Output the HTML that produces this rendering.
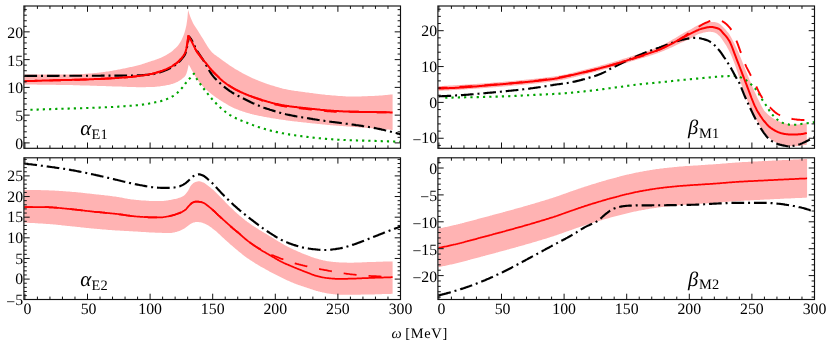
<!DOCTYPE html>
<html><head><meta charset="utf-8"><title>Dynamical polarisabilities</title>
<style>
html,body{margin:0;padding:0;background:#fff;}
body{width:830px;height:341px;overflow:hidden;font-family:"Liberation Serif",serif;}
svg{display:block;will-change:transform;}
text{font-family:"Liberation Serif",serif;fill:#000;text-rendering:geometricPrecision;}
.tk{font-size:15.8px;}
.gk{font-size:21px;font-style:italic;}
.bt{font-size:20.5px;}
.sb{font-size:14.4px;letter-spacing:0.2px;}
.ax{font-size:14.4px;letter-spacing:0.7px;}
</style></head><body>
<svg width="830" height="341" viewBox="0 0 830 341">
<rect x="0" y="0" width="830" height="341" fill="#ffffff"/>
<g id="tl">
<path d="M24.4,74.6L25.4,74.6L26.4,74.6L27.4,74.6L28.4,74.6L29.4,74.6L30.4,74.6L31.4,74.6L32.4,74.6L33.4,74.6L34.4,74.6L35.4,74.6L36.4,74.6L37.4,74.6L38.4,74.6L39.4,74.6L40.4,74.6L41.4,74.6L42.4,74.6L43.4,74.6L44.4,74.6L45.4,74.6L46.4,74.6L47.4,74.6L48.4,74.6L49.4,74.6L50.4,74.6L51.4,74.6L52.4,74.6L53.4,74.6L54.4,74.6L55.4,74.6L56.4,74.6L57.4,74.6L58.4,74.6L59.4,74.6L60.4,74.5L61.4,74.5L62.4,74.5L63.4,74.5L64.4,74.5L65.4,74.5L66.4,74.5L67.4,74.4L68.4,74.4L69.4,74.4L70.4,74.4L71.4,74.4L72.4,74.4L73.4,74.3L74.4,74.3L75.4,74.3L76.4,74.3L77.4,74.2L78.4,74.2L79.4,74.2L80.4,74.1L81.4,74.1L82.4,74.0L83.4,73.9L84.4,73.9L85.4,73.8L86.4,73.8L87.4,73.7L88.4,73.6L89.4,73.5L90.4,73.5L91.4,73.4L92.4,73.3L93.4,73.2L94.4,73.1L95.4,73.0L96.4,72.9L97.4,72.8L98.4,72.7L99.4,72.6L100.4,72.4L101.4,72.3L102.4,72.2L103.4,72.0L104.4,71.9L105.4,71.8L106.4,71.6L107.4,71.5L108.4,71.4L109.4,71.2L110.4,71.0L111.4,70.9L112.4,70.7L113.4,70.5L114.4,70.3L115.4,70.2L116.4,70.0L117.4,69.8L118.4,69.6L119.4,69.4L120.4,69.2L121.4,69.0L122.4,68.8L123.4,68.6L124.4,68.4L125.4,68.2L126.4,68.0L127.4,67.8L128.4,67.6L129.4,67.3L130.4,67.1L131.4,66.9L132.4,66.7L133.4,66.4L134.4,66.2L135.4,66.0L136.4,65.7L137.4,65.5L138.4,65.2L139.4,65.0L140.4,64.7L141.4,64.4L142.4,64.1L143.4,63.8L144.4,63.5L145.4,63.1L146.4,62.8L147.4,62.5L148.4,62.1L149.4,61.8L150.4,61.5L151.4,61.1L152.4,60.8L153.4,60.5L154.4,60.2L155.4,59.8L156.4,59.5L157.4,59.1L158.4,58.7L159.4,58.3L160.4,57.9L161.4,57.5L162.4,57.0L163.4,56.5L164.4,56.0L165.4,55.4L166.4,54.9L167.4,54.3L168.4,53.7L169.4,53.1L170.4,52.4L171.4,51.7L172.4,50.9L173.4,50.0L174.4,49.1L175.4,48.2L176.4,47.3L177.4,46.2L178.4,45.0L179.4,43.6L180.4,42.0L181.4,40.2L182.4,38.0L183.4,35.7L184.4,33.0L185.4,29.6L186.4,25.3L187.4,18.2L188.1,10.1L189.1,13.3L190.1,16.2L191.1,18.8L192.1,21.1L193.1,23.2L194.1,25.0L195.1,26.6L196.1,28.1L197.1,29.6L198.1,31.1L199.1,32.7L200.1,34.3L201.1,35.9L202.1,37.5L203.1,39.1L204.1,40.8L205.1,42.5L206.1,44.1L207.1,45.7L208.1,47.2L209.1,48.7L210.1,50.0L211.1,51.3L212.1,52.4L213.1,53.3L214.1,54.2L215.1,54.9L216.1,55.6L217.1,56.4L218.1,57.1L219.1,57.8L220.1,58.6L221.1,59.3L222.1,60.0L223.1,60.7L224.1,61.4L225.1,62.1L226.1,62.9L227.1,63.6L228.1,64.3L229.1,65.0L230.1,65.7L231.1,66.3L232.1,67.0L233.1,67.6L234.1,68.2L235.1,68.9L236.1,69.5L237.1,70.0L238.1,70.6L239.1,71.2L240.1,71.8L241.1,72.3L242.1,72.9L243.1,73.4L244.1,73.9L245.1,74.5L246.1,75.0L247.1,75.5L248.1,76.0L249.1,76.5L250.1,77.0L251.1,77.4L252.1,77.9L253.1,78.4L254.1,78.8L255.1,79.2L256.1,79.7L257.1,80.1L258.1,80.5L259.1,80.9L260.1,81.3L261.1,81.7L262.1,82.1L263.1,82.5L264.1,82.8L265.1,83.2L266.1,83.5L267.1,83.9L268.1,84.2L269.1,84.6L270.1,84.9L271.1,85.2L272.1,85.5L273.1,85.8L274.1,86.1L275.1,86.4L276.1,86.7L277.1,87.0L278.1,87.3L279.1,87.6L280.1,87.9L281.1,88.1L282.1,88.4L283.1,88.7L284.1,88.9L285.1,89.1L286.1,89.3L287.1,89.5L288.1,89.7L289.1,89.9L290.1,90.1L291.1,90.2L292.1,90.4L293.1,90.5L294.1,90.7L295.1,90.9L296.1,91.0L297.1,91.1L298.1,91.3L299.1,91.4L300.1,91.6L301.1,91.7L302.1,91.8L303.1,92.0L304.1,92.1L305.1,92.2L306.1,92.4L307.1,92.5L308.1,92.6L309.1,92.7L310.1,92.9L311.1,93.0L312.1,93.1L313.1,93.3L314.1,93.4L315.1,93.5L316.1,93.7L317.1,93.8L318.1,93.9L319.1,94.1L320.1,94.2L321.1,94.3L322.1,94.4L323.1,94.5L324.1,94.6L325.1,94.7L326.1,94.9L327.1,94.9L328.1,95.0L329.1,95.1L330.1,95.2L331.1,95.3L332.1,95.4L333.1,95.5L334.1,95.5L335.1,95.6L336.1,95.7L337.1,95.8L338.1,95.9L339.1,95.9L340.1,96.0L341.1,96.1L342.1,96.1L343.1,96.2L344.1,96.3L345.1,96.3L346.1,96.4L347.1,96.4L348.1,96.4L349.1,96.5L350.1,96.5L351.1,96.5L352.1,96.5L353.1,96.5L354.1,96.5L355.1,96.5L356.1,96.5L357.1,96.5L358.1,96.4L359.1,96.4L360.1,96.4L361.1,96.4L362.1,96.3L363.1,96.3L364.1,96.3L365.1,96.2L366.1,96.2L367.1,96.2L368.1,96.1L369.1,96.1L370.1,96.1L371.1,96.0L372.1,96.0L373.1,95.9L374.1,95.9L375.1,95.8L376.1,95.8L377.1,95.7L378.1,95.7L379.1,95.6L380.1,95.5L381.1,95.5L382.1,95.4L383.1,95.3L384.1,95.2L385.1,95.1L386.1,95.0L387.1,94.9L388.1,94.8L389.1,94.7L390.1,94.6L391.1,94.5L392.1,94.4L392.6,94.3L392.6,130.0L391.7,129.9L390.7,129.8L389.7,129.7L388.7,129.6L387.7,129.6L386.7,129.5L385.7,129.4L384.7,129.3L383.7,129.2L382.7,129.1L381.7,129.0L380.7,128.9L379.7,128.9L378.7,128.8L377.7,128.7L376.7,128.6L375.7,128.5L374.7,128.5L373.7,128.4L372.7,128.3L371.7,128.2L370.7,128.1L369.7,128.1L368.7,128.0L367.7,127.9L366.7,127.9L365.7,127.8L364.7,127.7L363.7,127.6L362.7,127.6L361.7,127.5L360.7,127.4L359.7,127.4L358.7,127.3L357.7,127.2L356.7,127.1L355.7,127.1L354.7,127.0L353.7,126.9L352.7,126.9L351.7,126.8L350.7,126.7L349.7,126.6L348.7,126.6L347.7,126.5L346.7,126.4L345.7,126.3L344.7,126.3L343.7,126.2L342.7,126.1L341.7,126.0L340.7,126.0L339.7,125.9L338.7,125.8L337.7,125.7L336.7,125.7L335.7,125.6L334.7,125.5L333.7,125.4L332.7,125.3L331.7,125.2L330.7,125.2L329.7,125.1L328.7,125.0L327.7,124.9L326.7,124.8L325.7,124.7L324.7,124.6L323.7,124.5L322.7,124.4L321.7,124.3L320.7,124.2L319.7,124.1L318.7,124.0L317.7,123.9L316.7,123.8L315.7,123.7L314.7,123.6L313.7,123.5L312.7,123.4L311.7,123.3L310.7,123.2L309.7,123.1L308.7,123.0L307.7,122.9L306.7,122.8L305.7,122.6L304.7,122.5L303.7,122.4L302.7,122.3L301.7,122.2L300.7,122.1L299.7,122.0L298.7,121.9L297.7,121.8L296.7,121.6L295.7,121.5L294.7,121.4L293.7,121.3L292.7,121.2L291.7,121.0L290.7,120.9L289.7,120.8L288.7,120.7L287.7,120.5L286.7,120.4L285.7,120.3L284.7,120.1L283.7,120.0L282.7,119.8L281.7,119.7L280.7,119.6L279.7,119.4L278.7,119.3L277.7,119.1L276.7,119.0L275.7,118.8L274.7,118.6L273.7,118.5L272.7,118.3L271.7,118.2L270.7,118.0L269.7,117.8L268.7,117.6L267.7,117.5L266.7,117.3L265.7,117.1L264.7,116.9L263.7,116.7L262.7,116.5L261.7,116.3L260.7,116.1L259.7,115.9L258.7,115.7L257.7,115.5L256.7,115.3L255.7,115.1L254.7,114.9L253.7,114.6L252.7,114.4L251.7,114.1L250.7,113.9L249.7,113.6L248.7,113.3L247.7,113.0L246.7,112.7L245.7,112.4L244.7,112.1L243.7,111.8L242.7,111.4L241.7,111.1L240.7,110.7L239.7,110.4L238.7,110.0L237.7,109.6L236.7,109.2L235.7,108.8L234.7,108.4L233.7,107.9L232.7,107.4L231.7,107.0L230.7,106.5L229.7,105.9L228.7,105.4L227.7,104.8L226.7,104.2L225.7,103.6L224.7,103.0L223.7,102.4L222.7,101.8L221.7,101.2L220.7,100.5L219.7,99.9L218.7,99.2L217.7,98.5L216.7,97.9L215.7,97.2L214.7,96.4L213.7,95.7L212.7,95.0L211.7,94.2L210.7,93.4L209.7,92.6L208.7,91.8L207.7,90.9L206.7,90.0L205.7,89.1L204.7,88.2L203.7,87.2L202.7,86.2L201.7,85.1L200.7,83.9L199.7,82.7L198.7,81.4L197.7,80.0L196.7,78.5L195.7,76.9L194.7,75.3L193.7,73.5L192.7,71.8L191.7,69.9L190.7,68.1L189.7,66.2L188.7,64.4L188.4,66.0L187.4,70.4L186.4,73.8L185.4,75.7L184.4,76.9L183.4,77.8L182.4,78.6L181.4,79.4L180.4,80.1L179.4,80.7L178.4,81.3L177.4,81.9L176.4,82.3L175.4,82.8L174.4,83.2L173.4,83.5L172.4,83.9L171.4,84.1L170.4,84.4L169.4,84.7L168.4,84.9L167.4,85.1L166.4,85.3L165.4,85.5L164.4,85.7L163.4,85.8L162.4,86.0L161.4,86.1L160.4,86.3L159.4,86.4L158.4,86.5L157.4,86.6L156.4,86.7L155.4,86.8L154.4,86.9L153.4,86.9L152.4,87.0L151.4,87.0L150.4,87.0L149.4,87.1L148.4,87.1L147.4,87.1L146.4,87.1L145.4,87.2L144.4,87.2L143.4,87.2L142.4,87.2L141.4,87.2L140.4,87.2L139.4,87.2L138.4,87.2L137.4,87.2L136.4,87.2L135.4,87.1L134.4,87.1L133.4,87.1L132.4,87.1L131.4,87.0L130.4,87.0L129.4,87.0L128.4,86.9L127.4,86.9L126.4,86.8L125.4,86.8L124.4,86.8L123.4,86.7L122.4,86.7L121.4,86.6L120.4,86.6L119.4,86.6L118.4,86.5L117.4,86.5L116.4,86.5L115.4,86.5L114.4,86.4L113.4,86.4L112.4,86.4L111.4,86.3L110.4,86.3L109.4,86.3L108.4,86.2L107.4,86.2L106.4,86.2L105.4,86.1L104.4,86.1L103.4,86.1L102.4,86.0L101.4,86.0L100.4,86.0L99.4,85.9L98.4,85.9L97.4,85.9L96.4,85.8L95.4,85.8L94.4,85.8L93.4,85.7L92.4,85.7L91.4,85.7L90.4,85.7L89.4,85.6L88.4,85.6L87.4,85.6L86.4,85.5L85.4,85.5L84.4,85.5L83.4,85.4L82.4,85.4L81.4,85.4L80.4,85.4L79.4,85.3L78.4,85.3L77.4,85.3L76.4,85.2L75.4,85.2L74.4,85.2L73.4,85.2L72.4,85.1L71.4,85.1L70.4,85.1L69.4,85.1L68.4,85.0L67.4,85.0L66.4,85.0L65.4,85.0L64.4,85.0L63.4,85.0L62.4,84.9L61.4,84.9L60.4,84.9L59.4,84.9L58.4,84.9L57.4,84.9L56.4,84.9L55.4,84.8L54.4,84.8L53.4,84.8L52.4,84.8L51.4,84.8L50.4,84.8L49.4,84.8L48.4,84.8L47.4,84.7L46.4,84.7L45.4,84.7L44.4,84.7L43.4,84.7L42.4,84.7L41.4,84.7L40.4,84.7L39.4,84.7L38.4,84.7L37.4,84.7L36.4,84.6L35.4,84.6L34.4,84.6L33.4,84.6L32.4,84.6L31.4,84.6L30.4,84.6L29.4,84.6L28.4,84.6L27.4,84.6L26.4,84.6L25.4,84.6L24.4,84.6Z" fill="#ffb3b3" stroke="none"/>
<path d="M30.4,109.8L31.4,109.8L32.4,109.7L33.4,109.7L34.4,109.7L35.4,109.6L36.4,109.6L37.4,109.6L38.4,109.5L39.4,109.5L40.4,109.5L41.4,109.4L42.4,109.4L43.4,109.4L44.4,109.3L45.4,109.3L46.4,109.3L47.4,109.2L48.4,109.2L49.4,109.2L50.4,109.1L51.4,109.1L52.4,109.1L53.4,109.0L54.4,109.0L55.4,109.0L56.4,108.9L57.4,108.9L58.4,108.9L59.4,108.8L60.4,108.8L61.4,108.8L62.4,108.7L63.4,108.7L64.4,108.7L65.4,108.6L66.4,108.6L67.4,108.6L68.4,108.6L69.4,108.5L70.4,108.5L71.4,108.5L72.4,108.4L73.4,108.4L74.4,108.4L75.4,108.4L76.4,108.3L77.4,108.3L78.4,108.3L79.4,108.2L80.4,108.2L81.4,108.2L82.4,108.2L83.4,108.1L84.4,108.1L85.4,108.1L86.4,108.0L87.4,108.0L88.4,108.0L89.4,107.9L90.4,107.9L91.4,107.9L92.4,107.8L93.4,107.8L94.4,107.8L95.4,107.7L96.4,107.7L97.4,107.6L98.4,107.6L99.4,107.6L100.4,107.5L101.4,107.5L102.4,107.4L103.4,107.4L104.4,107.3L105.4,107.3L106.4,107.3L107.4,107.2L108.4,107.2L109.4,107.1L110.4,107.1L111.4,107.0L112.4,107.0L113.4,106.9L114.4,106.9L115.4,106.8L116.4,106.7L117.4,106.7L118.4,106.6L119.4,106.6L120.4,106.5L121.4,106.4L122.4,106.4L123.4,106.3L124.4,106.2L125.4,106.1L126.4,106.1L127.4,106.0L128.4,105.9L129.4,105.8L130.4,105.8L131.4,105.7L132.4,105.6L133.4,105.5L134.4,105.4L135.4,105.4L136.4,105.3L137.4,105.2L138.4,105.1L139.4,105.0L140.4,104.9L141.4,104.7L142.4,104.6L143.4,104.5L144.4,104.3L145.4,104.2L146.4,104.0L147.4,103.9L148.4,103.7L149.4,103.5L150.4,103.3L151.4,103.1L152.4,102.9L153.4,102.7L154.4,102.5L155.4,102.3L156.4,102.1L157.4,101.9L158.4,101.7L159.4,101.4L160.4,101.2L161.4,100.9L162.4,100.6L163.4,100.3L164.4,100.0L165.4,99.7L166.4,99.3L167.4,98.9L168.4,98.5L169.4,98.1L170.4,97.6L171.4,97.0L172.4,96.4L173.4,95.8L174.4,95.1L175.4,94.4L176.4,93.6L177.4,92.8L178.4,91.9L179.4,90.9L180.4,89.8L181.4,88.7L182.4,87.5L183.4,86.2L184.4,84.9L185.4,83.5L186.4,82.3L187.4,81.1L188.4,79.9L189.4,78.8L190.4,77.7L191.4,76.5L192.4,75.4L193.4,74.3L194.0,73.7L195.0,75.7L196.0,77.6L197.0,79.3L198.0,80.9L199.0,82.4L200.0,83.7L201.0,85.0L202.0,86.3L203.0,87.7L204.0,89.0L205.0,90.3L206.0,91.6L207.0,92.9L208.0,94.2L209.0,95.4L210.0,96.7L211.0,97.8L212.0,99.0L213.0,100.1L214.0,101.2L215.0,102.3L216.0,103.3L217.0,104.4L218.0,105.4L219.0,106.4L220.0,107.3L221.0,108.2L222.0,109.1L223.0,109.9L224.0,110.7L225.0,111.5L226.0,112.3L227.0,113.0L228.0,113.7L229.0,114.4L230.0,115.1L231.0,115.7L232.0,116.3L233.0,116.8L234.0,117.3L235.0,117.8L236.0,118.3L237.0,118.8L238.0,119.2L239.0,119.7L240.0,120.1L241.0,120.5L242.0,120.9L243.0,121.3L244.0,121.7L245.0,122.1L246.0,122.4L247.0,122.8L248.0,123.2L249.0,123.6L250.0,124.0L251.0,124.4L252.0,124.7L253.0,125.1L254.0,125.5L255.0,125.8L256.0,126.2L257.0,126.6L258.0,126.9L259.0,127.2L260.0,127.6L261.0,127.9L262.0,128.2L263.0,128.5L264.0,128.8L265.0,129.1L266.0,129.4L267.0,129.6L268.0,129.9L269.0,130.2L270.0,130.4L271.0,130.7L272.0,130.9L273.0,131.2L274.0,131.4L275.0,131.6L276.0,131.9L277.0,132.1L278.0,132.3L279.0,132.5L280.0,132.7L281.0,133.0L282.0,133.2L283.0,133.3L284.0,133.5L285.0,133.7L286.0,133.9L287.0,134.1L288.0,134.2L289.0,134.4L290.0,134.6L291.0,134.7L292.0,134.9L293.0,135.0L294.0,135.2L295.0,135.3L296.0,135.5L297.0,135.6L298.0,135.7L299.0,135.9L300.0,136.0L301.0,136.1L302.0,136.3L303.0,136.4L304.0,136.5L305.0,136.6L306.0,136.8L307.0,136.9L308.0,137.0L309.0,137.1L310.0,137.2L311.0,137.3L312.0,137.5L313.0,137.6L314.0,137.7L315.0,137.8L316.0,137.9L317.0,138.0L318.0,138.1L319.0,138.2L320.0,138.3L321.0,138.4L322.0,138.5L323.0,138.6L324.0,138.7L325.0,138.8L326.0,138.9L327.0,139.0L328.0,139.1L329.0,139.1L330.0,139.2L331.0,139.3L332.0,139.3L333.0,139.4L334.0,139.5L335.0,139.5L336.0,139.6L337.0,139.6L338.0,139.7L339.0,139.7L340.0,139.8L341.0,139.8L342.0,139.9L343.0,139.9L344.0,140.0L345.0,140.0L346.0,140.1L347.0,140.1L348.0,140.1L349.0,140.2L350.0,140.2L351.0,140.3L352.0,140.3L353.0,140.3L354.0,140.4L355.0,140.4L356.0,140.4L357.0,140.5L358.0,140.5L359.0,140.5L360.0,140.5L361.0,140.6L362.0,140.6L363.0,140.6L364.0,140.6L365.0,140.7L366.0,140.7L367.0,140.7L368.0,140.7L369.0,140.8L370.0,140.8L371.0,140.8L372.0,140.8L373.0,140.9L374.0,140.9L375.0,140.9L376.0,141.0L377.0,141.0L378.0,141.0L379.0,141.1L380.0,141.1L381.0,141.1L382.0,141.2L383.0,141.2L384.0,141.2L385.0,141.3L386.0,141.3L387.0,141.3L388.0,141.4L389.0,141.4L390.0,141.4L391.0,141.5L392.0,141.5L393.0,141.5L394.0,141.5L395.0,141.6L396.0,141.6L397.0,141.6L398.0,141.6L399.0,141.7L400.0,141.7L400.5,141.7" fill="none" stroke="#00a500" stroke-width="2.1" stroke-linecap="butt" stroke-linejoin="round" stroke-dasharray="2.2 4.009"/>
<path d="M24.4,75.8L25.4,75.8L26.4,75.8L27.4,75.8L28.4,75.8L29.4,75.8L30.4,75.8L31.4,75.8L32.4,75.8L33.4,75.8L34.4,75.8L35.4,75.8L36.4,75.8L37.4,75.8L38.4,75.8L39.4,75.8L40.4,75.8L41.4,75.8L42.4,75.8L43.4,75.8L44.4,75.8L45.4,75.8L46.4,75.8L47.4,75.8L48.4,75.8L49.4,75.8L50.4,75.8L51.4,75.8L52.4,75.8L53.4,75.8L54.4,75.8L55.4,75.8L56.4,75.8L57.4,75.8L58.4,75.8L59.4,75.7L60.4,75.7L61.4,75.7L62.4,75.7L63.4,75.7L64.4,75.7L65.4,75.7L66.4,75.7L67.4,75.7L68.4,75.7L69.4,75.7L70.4,75.7L71.4,75.7L72.4,75.7L73.4,75.7L74.4,75.7L75.4,75.7L76.4,75.7L77.4,75.7L78.4,75.7L79.4,75.7L80.4,75.7L81.4,75.7L82.4,75.7L83.4,75.7L84.4,75.7L85.4,75.7L86.4,75.7L87.4,75.7L88.4,75.7L89.4,75.7L90.4,75.7L91.4,75.7L92.4,75.7L93.4,75.7L94.4,75.7L95.4,75.7L96.4,75.7L97.4,75.7L98.4,75.7L99.4,75.7L100.4,75.7L101.4,75.6L102.4,75.6L103.4,75.6L104.4,75.6L105.4,75.6L106.4,75.6L107.4,75.6L108.4,75.6L109.4,75.6L110.4,75.6L111.4,75.6L112.4,75.6L113.4,75.6L114.4,75.6L115.4,75.6L116.4,75.6L117.4,75.6L118.4,75.6L119.4,75.6L120.4,75.6L121.4,75.6L122.4,75.6L123.4,75.5L124.4,75.5L125.4,75.5L126.4,75.5L127.4,75.5L128.4,75.5L129.4,75.5L130.4,75.5L131.4,75.5L132.4,75.5L133.4,75.5L134.4,75.4L135.4,75.4L136.4,75.4L137.4,75.3L138.4,75.3L139.4,75.3L140.4,75.2L141.4,75.2L142.4,75.1L143.4,75.1L144.4,75.0L145.4,74.9L146.4,74.9L147.4,74.8L148.4,74.7L149.4,74.6L150.4,74.6L151.4,74.4L152.4,74.3L153.4,74.1L154.4,73.8L155.4,73.6L156.4,73.3L157.4,73.0L158.4,72.7L159.4,72.4L160.4,72.1L161.4,71.8L162.4,71.4L163.4,71.1L164.4,70.7L165.4,70.3L166.4,69.9L167.4,69.5L168.4,69.0L169.4,68.6L170.4,68.0L171.4,67.5L172.4,66.9L173.4,66.3L174.4,65.6L175.4,64.9L176.4,64.2L177.4,63.4L178.4,62.5L179.4,61.5L180.4,60.5L181.4,59.3L182.4,58.1L183.4,56.9L184.4,55.4L185.4,53.5L186.4,50.2L187.4,45.2L188.4,39.6L188.9,36.4L189.9,37.5L190.9,38.9L191.9,40.5L192.9,42.6L193.9,44.7L194.9,46.7L195.9,48.7L196.9,50.6L197.9,52.2L198.9,53.6L199.9,55.0L200.9,56.5L201.9,58.0L202.9,59.5L203.9,61.2L204.9,62.9L205.9,64.7L206.9,66.4L207.9,68.2L208.9,70.0L209.9,71.6L210.9,73.1L211.9,74.6L212.9,75.9L213.9,77.1L214.9,78.2L215.9,79.2L216.9,80.2L217.9,81.2L218.9,82.2L219.9,83.1L220.9,84.1L221.9,85.0L222.9,85.8L223.9,86.6L224.9,87.4L225.9,88.2L226.9,88.9L227.9,89.7L228.9,90.4L229.9,91.1L230.9,91.7L231.9,92.4L232.9,93.0L233.9,93.6L234.9,94.2L235.9,94.7L236.9,95.2L237.9,95.8L238.9,96.3L239.9,96.8L240.9,97.3L241.9,97.8L242.9,98.3L243.9,98.8L244.9,99.3L245.9,99.8L246.9,100.3L247.9,100.8L248.9,101.3L249.9,101.8L250.9,102.3L251.9,102.7L252.9,103.2L253.9,103.6L254.9,104.0L255.9,104.5L256.9,104.9L257.9,105.3L258.9,105.7L259.9,106.1L260.9,106.5L261.9,106.9L262.9,107.3L263.9,107.7L264.9,108.0L265.9,108.4L266.9,108.7L267.9,109.0L268.9,109.3L269.9,109.7L270.9,110.0L271.9,110.3L272.9,110.6L273.9,110.9L274.9,111.2L275.9,111.5L276.9,111.8L277.9,112.1L278.9,112.4L279.9,112.7L280.9,113.0L281.9,113.3L282.9,113.5L283.9,113.8L284.9,114.0L285.9,114.3L286.9,114.5L287.9,114.7L288.9,114.9L289.9,115.1L290.9,115.3L291.9,115.5L292.9,115.7L293.9,115.9L294.9,116.1L295.9,116.3L296.9,116.5L297.9,116.6L298.9,116.8L299.9,117.0L300.9,117.1L301.9,117.3L302.9,117.5L303.9,117.6L304.9,117.8L305.9,118.0L306.9,118.1L307.9,118.3L308.9,118.4L309.9,118.6L310.9,118.8L311.9,118.9L312.9,119.1L313.9,119.2L314.9,119.4L315.9,119.5L316.9,119.7L317.9,119.9L318.9,120.0L319.9,120.1L320.9,120.3L321.9,120.4L322.9,120.6L323.9,120.7L324.9,120.9L325.9,121.0L326.9,121.2L327.9,121.3L328.9,121.4L329.9,121.6L330.9,121.7L331.9,121.9L332.9,122.0L333.9,122.1L334.9,122.3L335.9,122.4L336.9,122.5L337.9,122.6L338.9,122.8L339.9,122.9L340.9,123.0L341.9,123.2L342.9,123.3L343.9,123.4L344.9,123.5L345.9,123.7L346.9,123.8L347.9,123.9L348.9,124.1L349.9,124.2L350.9,124.3L351.9,124.5L352.9,124.6L353.9,124.8L354.9,124.9L355.9,125.1L356.9,125.2L357.9,125.3L358.9,125.5L359.9,125.6L360.9,125.8L361.9,125.9L362.9,126.1L363.9,126.2L364.9,126.4L365.9,126.5L366.9,126.7L367.9,126.8L368.9,127.0L369.9,127.2L370.9,127.3L371.9,127.5L372.9,127.7L373.9,127.9L374.9,128.1L375.9,128.3L376.9,128.5L377.9,128.7L378.9,128.9L379.9,129.1L380.9,129.3L381.9,129.6L382.9,129.8L383.9,130.0L384.9,130.3L385.9,130.5L386.9,130.7L387.9,131.0L388.9,131.2L389.9,131.5L390.9,131.7L391.9,132.0L392.9,132.2L393.9,132.5L394.9,132.8L395.9,133.0L396.9,133.3L397.9,133.6L398.9,133.8L399.9,134.1L400.5,134.3" fill="none" stroke="#000000" stroke-width="2.15" stroke-linecap="butt" stroke-linejoin="round" stroke-dasharray="12.7 3.9 2.0 3.9"/>
<path d="M24.4,81.2L25.4,81.2L26.4,81.1L27.4,81.1L28.4,81.1L29.4,81.0L30.4,81.0L31.4,81.0L32.4,80.9L33.4,80.9L34.4,80.9L35.4,80.8L36.4,80.8L37.4,80.8L38.4,80.7L39.4,80.7L40.4,80.7L41.4,80.7L42.4,80.6L43.4,80.6L44.4,80.6L45.4,80.5L46.4,80.5L47.4,80.5L48.4,80.5L49.4,80.4L50.4,80.4L51.4,80.4L52.4,80.4L53.4,80.3L54.4,80.3L55.4,80.3L56.4,80.3L57.4,80.2L58.4,80.2L59.4,80.2L60.4,80.2L61.4,80.1L62.4,80.1L63.4,80.1L64.4,80.1L65.4,80.0L66.4,80.0L67.4,80.0L68.4,80.0L69.4,79.9L70.4,79.9L71.4,79.9L72.4,79.8L73.4,79.8L74.4,79.8L75.4,79.8L76.4,79.7L77.4,79.7L78.4,79.7L79.4,79.7L80.4,79.6L81.4,79.6L82.4,79.6L83.4,79.5L84.4,79.5L85.4,79.5L86.4,79.4L87.4,79.4L88.4,79.4L89.4,79.3L90.4,79.3L91.4,79.3L92.4,79.2L93.4,79.2L94.4,79.1L95.4,79.1L96.4,79.1L97.4,79.0L98.4,79.0L99.4,78.9L100.4,78.9L101.4,78.8L102.4,78.8L103.4,78.7L104.4,78.7L105.4,78.6L106.4,78.6L107.4,78.5L108.4,78.5L109.4,78.4L110.4,78.4L111.4,78.3L112.4,78.3L113.4,78.2L114.4,78.2L115.4,78.1L116.4,78.0L117.4,78.0L118.4,77.9L119.4,77.8L120.4,77.8L121.4,77.7L122.4,77.6L123.4,77.6L124.4,77.5L125.4,77.4L126.4,77.3L127.4,77.2L128.4,77.1L129.4,77.1L130.4,77.0L131.4,76.9L132.4,76.8L133.4,76.6L134.4,76.5L135.4,76.4L136.4,76.3L137.4,76.1L138.4,76.0L139.4,75.9L140.4,75.7L141.4,75.6L142.4,75.5L143.4,75.3L144.4,75.2L145.4,75.0L146.4,74.9L147.4,74.7L148.4,74.5L149.4,74.3L150.4,74.1L151.4,73.9L152.4,73.7L153.4,73.4L154.4,73.2L155.4,72.9L156.4,72.6L157.4,72.3L158.4,72.0L159.4,71.7L160.4,71.4L161.4,71.0L162.4,70.7L163.4,70.3L164.4,69.9L165.4,69.5L166.4,69.1L167.4,68.6L168.4,68.1L169.4,67.6L170.4,67.1L171.4,66.6L172.4,66.0L173.4,65.3L174.4,64.6L175.4,63.9L176.4,63.2L177.4,62.4L178.4,61.5L179.4,60.5L180.4,59.4L181.4,58.3L182.4,57.1L183.4,55.9L184.4,54.4L185.4,52.4L186.4,48.5L187.4,43.0L188.3,36.0L189.3,37.4L190.3,39.0L191.3,40.8L192.3,42.8L193.3,44.9L194.3,46.9L195.3,48.9L196.3,50.7L197.3,52.3L198.3,53.6L199.3,54.9L200.3,56.3L201.3,57.6L202.3,58.9L203.3,60.2L204.3,61.3L205.3,62.4L206.3,63.5L207.3,64.8L208.3,66.0L209.3,67.3L210.3,68.6L211.3,69.8L212.3,70.9L213.3,72.0L214.3,73.0L215.3,74.0L216.3,74.9L217.3,75.9L218.3,76.9L219.3,77.9L220.3,78.9L221.3,79.8L222.3,80.7L223.3,81.5L224.3,82.3L225.3,83.0L226.3,83.8L227.3,84.5L228.3,85.1L229.3,85.8L230.3,86.4L231.3,87.0L232.3,87.6L233.3,88.2L234.3,88.8L235.3,89.3L236.3,89.8L237.3,90.3L238.3,90.8L239.3,91.3L240.3,91.8L241.3,92.3L242.3,92.7L243.3,93.2L244.3,93.6L245.3,94.0L246.3,94.5L247.3,94.9L248.3,95.3L249.3,95.7L250.3,96.0L251.3,96.4L252.3,96.8L253.3,97.1L254.3,97.5L255.3,97.8L256.3,98.2L257.3,98.5L258.3,98.8L259.3,99.2L260.3,99.5L261.3,99.8L262.3,100.9L263.3,101.2L264.3,101.5L265.3,101.8L266.3,102.1L267.3,102.4L268.3,102.7L269.3,102.9L270.3,103.2L271.3,103.5L272.3,103.7L273.3,104.0L274.3,104.2L275.3,104.5L276.3,104.7L277.3,104.9L278.3,105.1L279.3,105.4L280.3,105.6L281.3,105.8L282.3,106.0L283.3,106.1L284.3,106.3L285.3,106.5L286.3,106.6L287.3,106.8L288.3,106.9L289.3,107.1L290.3,107.2L291.3,107.3L292.3,107.5L293.3,107.6L294.3,107.7L295.3,107.8L296.3,107.9L297.3,108.1L298.3,108.2L299.3,108.3L300.3,108.4L301.3,108.5L302.3,108.6L303.3,108.7L304.3,108.8L305.3,108.9L306.3,109.0L307.3,109.1L308.3,109.2L309.3,109.3L310.3,109.5L311.3,109.6L312.3,109.7L313.3,109.8L314.3,109.9L315.3,110.0L316.3,110.1L317.3,110.2L318.3,110.3L319.3,110.4L320.3,110.6L321.3,110.7L322.3,110.8L323.3,110.8L324.3,110.9L325.3,111.0L326.3,111.1L327.3,111.2L328.3,111.3L329.3,111.4L330.3,111.4L331.3,111.5L332.3,111.6L333.3,111.6L334.3,111.7L335.3,111.7L336.3,111.8L337.3,111.9L338.3,111.9L339.3,112.0L340.3,112.0L341.3,112.1L342.3,112.1L343.3,112.2L344.3,112.2L345.3,111.5L346.3,111.5L347.3,111.5L348.3,111.6L349.3,111.6L350.3,111.7L351.3,111.7L352.3,111.7L353.3,111.7L354.3,111.8L355.3,111.8L356.3,111.8L357.3,111.8L358.3,111.8L359.3,111.9L360.3,111.9L361.3,111.9L362.3,111.9L363.3,111.9L364.3,111.9L365.3,112.0L366.3,112.0L367.3,112.0L368.3,112.0L369.3,112.0L370.3,112.0L371.3,112.1L372.3,112.1L373.3,112.1L374.3,112.1L375.3,112.1L376.3,112.1L377.3,112.2L378.3,112.2L379.3,112.2L380.3,112.2L381.3,112.2L382.3,112.2L383.3,112.3L384.3,112.3L385.3,112.3L386.3,112.3L387.3,112.3L388.3,112.3L389.3,112.3L390.3,112.4L391.3,112.4L392.3,112.4L392.6,112.4" fill="none" stroke="#ff0000" stroke-width="1.9" stroke-linecap="butt" stroke-linejoin="round" stroke-dasharray="13 12"/>
<path d="M24.4,81.2L25.4,81.2L26.4,81.1L27.4,81.1L28.4,81.1L29.4,81.0L30.4,81.0L31.4,81.0L32.4,80.9L33.4,80.9L34.4,80.9L35.4,80.8L36.4,80.8L37.4,80.8L38.4,80.7L39.4,80.7L40.4,80.7L41.4,80.7L42.4,80.6L43.4,80.6L44.4,80.6L45.4,80.5L46.4,80.5L47.4,80.5L48.4,80.5L49.4,80.4L50.4,80.4L51.4,80.4L52.4,80.4L53.4,80.3L54.4,80.3L55.4,80.3L56.4,80.3L57.4,80.2L58.4,80.2L59.4,80.2L60.4,80.2L61.4,80.1L62.4,80.1L63.4,80.1L64.4,80.1L65.4,80.0L66.4,80.0L67.4,80.0L68.4,80.0L69.4,79.9L70.4,79.9L71.4,79.9L72.4,79.8L73.4,79.8L74.4,79.8L75.4,79.8L76.4,79.7L77.4,79.7L78.4,79.7L79.4,79.7L80.4,79.6L81.4,79.6L82.4,79.6L83.4,79.5L84.4,79.5L85.4,79.5L86.4,79.4L87.4,79.4L88.4,79.4L89.4,79.3L90.4,79.3L91.4,79.3L92.4,79.2L93.4,79.2L94.4,79.1L95.4,79.1L96.4,79.1L97.4,79.0L98.4,79.0L99.4,78.9L100.4,78.9L101.4,78.8L102.4,78.8L103.4,78.7L104.4,78.7L105.4,78.6L106.4,78.6L107.4,78.5L108.4,78.5L109.4,78.4L110.4,78.4L111.4,78.3L112.4,78.3L113.4,78.2L114.4,78.2L115.4,78.1L116.4,78.0L117.4,78.0L118.4,77.9L119.4,77.8L120.4,77.8L121.4,77.7L122.4,77.6L123.4,77.6L124.4,77.5L125.4,77.4L126.4,77.3L127.4,77.2L128.4,77.1L129.4,77.1L130.4,77.0L131.4,76.9L132.4,76.8L133.4,76.6L134.4,76.5L135.4,76.4L136.4,76.3L137.4,76.1L138.4,76.0L139.4,75.9L140.4,75.7L141.4,75.6L142.4,75.5L143.4,75.3L144.4,75.2L145.4,75.0L146.4,74.9L147.4,74.7L148.4,74.5L149.4,74.3L150.4,74.1L151.4,73.9L152.4,73.7L153.4,73.4L154.4,73.2L155.4,72.9L156.4,72.6L157.4,72.3L158.4,72.0L159.4,71.7L160.4,71.4L161.4,71.0L162.4,70.7L163.4,70.3L164.4,69.9L165.4,69.5L166.4,69.1L167.4,68.6L168.4,68.1L169.4,67.6L170.4,67.1L171.4,66.6L172.4,66.0L173.4,65.3L174.4,64.6L175.4,63.9L176.4,63.2L177.4,62.4L178.4,61.5L179.4,60.5L180.4,59.4L181.4,58.3L182.4,57.1L183.4,55.9L184.4,54.4L185.4,52.4L186.4,48.5L187.4,43.0L188.3,36.0L189.3,37.4L190.3,39.0L191.3,40.8L192.3,42.8L193.3,44.9L194.3,46.9L195.3,48.9L196.3,50.7L197.3,52.3L198.3,53.6L199.3,54.9L200.3,56.3L201.3,57.6L202.3,58.9L203.3,60.2L204.3,61.3L205.3,62.4L206.3,63.5L207.3,64.8L208.3,66.0L209.3,67.3L210.3,68.6L211.3,69.8L212.3,70.9L213.3,72.0L214.3,73.0L215.3,74.0L216.3,74.9L217.3,75.9L218.3,76.9L219.3,77.9L220.3,78.9L221.3,79.8L222.3,80.7L223.3,81.5L224.3,82.3L225.3,83.0L226.3,83.8L227.3,84.5L228.3,85.1L229.3,85.8L230.3,86.4L231.3,87.0L232.3,87.6L233.3,88.2L234.3,88.8L235.3,89.3L236.3,89.8L237.3,90.3L238.3,90.8L239.3,91.3L240.3,91.8L241.3,92.3L242.3,92.7L243.3,93.2L244.3,93.6L245.3,94.0L246.3,94.5L247.3,94.9L248.3,95.3L249.3,95.7L250.3,96.0L251.3,96.4L252.3,96.8L253.3,97.1L254.3,97.5L255.3,97.8L256.3,98.2L257.3,98.5L258.3,98.8L259.3,99.2L260.3,99.5L261.3,99.8L262.3,100.1L263.3,100.4L264.3,100.7L265.3,101.0L266.3,101.3L267.3,101.6L268.3,101.9L269.3,102.1L270.3,102.4L271.3,102.7L272.3,102.9L273.3,103.2L274.3,103.4L275.3,103.7L276.3,103.9L277.3,104.1L278.3,104.3L279.3,104.6L280.3,104.8L281.3,105.0L282.3,105.2L283.3,105.3L284.3,105.5L285.3,105.7L286.3,105.8L287.3,106.0L288.3,106.1L289.3,106.3L290.3,106.4L291.3,106.5L292.3,106.7L293.3,106.8L294.3,106.9L295.3,107.0L296.3,107.1L297.3,107.3L298.3,107.4L299.3,107.5L300.3,107.6L301.3,107.7L302.3,107.8L303.3,107.9L304.3,108.0L305.3,108.1L306.3,108.2L307.3,108.3L308.3,108.4L309.3,108.5L310.3,108.7L311.3,108.8L312.3,108.9L313.3,109.0L314.3,109.1L315.3,109.2L316.3,109.3L317.3,109.4L318.3,109.5L319.3,109.6L320.3,109.8L321.3,109.9L322.3,110.0L323.3,110.0L324.3,110.1L325.3,110.2L326.3,110.3L327.3,110.4L328.3,110.5L329.3,110.6L330.3,110.6L331.3,110.7L332.3,110.8L333.3,110.8L334.3,110.9L335.3,110.9L336.3,111.0L337.3,111.1L338.3,111.1L339.3,111.2L340.3,111.2L341.3,111.3L342.3,111.3L343.3,111.4L344.3,111.4L345.3,111.5L346.3,111.5L347.3,111.5L348.3,111.6L349.3,111.6L350.3,111.7L351.3,111.7L352.3,111.7L353.3,111.7L354.3,111.8L355.3,111.8L356.3,111.8L357.3,111.8L358.3,111.8L359.3,111.9L360.3,111.9L361.3,111.9L362.3,111.9L363.3,111.9L364.3,111.9L365.3,112.0L366.3,112.0L367.3,112.0L368.3,112.0L369.3,112.0L370.3,112.0L371.3,112.1L372.3,112.1L373.3,112.1L374.3,112.1L375.3,112.1L376.3,112.1L377.3,112.2L378.3,112.2L379.3,112.2L380.3,112.2L381.3,112.2L382.3,112.2L383.3,112.3L384.3,112.3L385.3,112.3L386.3,112.3L387.3,112.3L388.3,112.3L389.3,112.3L390.3,112.4L391.3,112.4L392.3,112.4L392.6,112.4" fill="none" stroke="#ff0000" stroke-width="2.0" stroke-linecap="butt" stroke-linejoin="round"/>
</g>
<g id="tr">
<path d="M438.5,86.1L439.5,86.1L440.5,86.0L441.5,86.0L442.5,85.9L443.5,85.9L444.5,85.8L445.5,85.8L446.5,85.7L447.5,85.7L448.5,85.6L449.5,85.6L450.5,85.5L451.5,85.4L452.5,85.4L453.5,85.3L454.5,85.3L455.5,85.2L456.5,85.2L457.5,85.1L458.5,85.0L459.5,85.0L460.5,84.9L461.5,84.9L462.5,84.8L463.5,84.7L464.5,84.7L465.5,84.6L466.5,84.5L467.5,84.5L468.5,84.4L469.5,84.4L470.5,84.3L471.5,84.2L472.5,84.2L473.5,84.1L474.5,84.0L475.5,84.0L476.5,83.9L477.5,83.8L478.5,83.7L479.5,83.7L480.5,83.6L481.5,83.5L482.5,83.5L483.5,83.4L484.5,83.3L485.5,83.2L486.5,83.2L487.5,83.1L488.5,83.0L489.5,82.9L490.5,82.9L491.5,82.8L492.5,82.7L493.5,82.6L494.5,82.6L495.5,82.5L496.5,82.4L497.5,82.3L498.5,82.2L499.5,82.1L500.5,82.1L501.5,82.0L502.5,81.9L503.5,81.8L504.5,81.7L505.5,81.6L506.5,81.5L507.5,81.4L508.5,81.3L509.5,81.3L510.5,81.2L511.5,81.1L512.5,81.0L513.5,80.9L514.5,80.8L515.5,80.7L516.5,80.6L517.5,80.5L518.5,80.4L519.5,80.3L520.5,80.2L521.5,80.1L522.5,80.0L523.5,79.9L524.5,79.8L525.5,79.7L526.5,79.6L527.5,79.5L528.5,79.4L529.5,79.3L530.5,79.2L531.5,79.1L532.5,79.0L533.5,78.9L534.5,78.8L535.5,78.7L536.5,78.6L537.5,78.5L538.5,78.4L539.5,78.2L540.5,78.1L541.5,78.0L542.5,77.9L543.5,77.8L544.5,77.7L545.5,77.6L546.5,77.5L547.5,77.3L548.5,77.2L549.5,77.1L550.5,76.9L551.5,76.8L552.5,76.7L553.5,76.5L554.5,76.4L555.5,76.2L556.5,76.1L557.5,75.9L558.5,75.7L559.5,75.6L560.5,75.4L561.5,75.2L562.5,75.0L563.5,74.8L564.5,74.6L565.5,74.4L566.5,74.2L567.5,73.9L568.5,73.7L569.5,73.5L570.5,73.3L571.5,73.0L572.5,72.8L573.5,72.6L574.5,72.3L575.5,72.1L576.5,71.8L577.5,71.6L578.5,71.3L579.5,71.1L580.5,70.8L581.5,70.6L582.5,70.3L583.5,70.1L584.5,69.8L585.5,69.6L586.5,69.3L587.5,69.0L588.5,68.8L589.5,68.5L590.5,68.3L591.5,68.0L592.5,67.7L593.5,67.5L594.5,67.2L595.5,67.0L596.5,66.7L597.5,66.4L598.5,66.2L599.5,65.9L600.5,65.6L601.5,65.3L602.5,65.1L603.5,64.8L604.5,64.5L605.5,64.2L606.5,63.9L607.5,63.6L608.5,63.4L609.5,63.1L610.5,62.8L611.5,62.5L612.5,62.2L613.5,61.9L614.5,61.6L615.5,61.3L616.5,61.0L617.5,60.7L618.5,60.4L619.5,60.1L620.5,59.8L621.5,59.4L622.5,59.1L623.5,58.8L624.5,58.5L625.5,58.2L626.5,57.9L627.5,57.6L628.5,57.2L629.5,56.9L630.5,56.6L631.5,56.3L632.5,56.0L633.5,55.6L634.5,55.3L635.5,55.0L636.5,54.7L637.5,54.3L638.5,54.0L639.5,53.7L640.5,53.3L641.5,53.0L642.5,52.7L643.5,52.4L644.5,52.0L645.5,51.7L646.5,51.4L647.5,51.0L648.5,50.7L649.5,50.3L650.5,50.0L651.5,49.6L652.5,49.3L653.5,48.9L654.5,48.5L655.5,48.2L656.5,47.8L657.5,47.4L658.5,46.9L659.5,46.5L660.5,46.1L661.5,45.6L662.5,45.1L663.5,44.6L664.5,44.1L665.5,43.6L666.5,43.0L667.5,42.5L668.5,41.9L669.5,41.3L670.5,40.8L671.5,40.2L672.5,39.6L673.5,39.1L674.5,38.5L675.5,37.9L676.5,37.3L677.5,36.7L678.5,36.0L679.5,35.4L680.5,34.8L681.5,34.2L682.5,33.7L683.5,33.1L684.5,32.6L685.5,32.0L686.5,31.5L687.5,31.0L688.5,30.5L689.5,30.0L690.5,29.4L691.5,28.9L692.5,28.3L693.5,27.7L694.5,27.1L695.5,26.5L696.5,26.0L697.5,25.4L698.5,25.0L699.5,24.6L700.5,24.2L701.5,23.9L702.5,23.5L703.5,23.1L704.5,22.8L705.5,22.5L706.5,22.3L707.5,22.1L708.5,22.0L709.5,22.0L710.5,22.0L711.5,22.0L712.5,22.0L713.5,22.0L714.5,22.0L715.5,22.2L716.5,22.4L717.5,22.8L718.5,23.3L719.5,23.8L720.5,24.5L721.5,25.5L722.5,26.5L723.5,27.6L724.5,28.6L725.5,29.6L726.5,30.7L727.5,31.9L728.5,33.1L729.5,34.6L730.5,36.3L731.5,38.1L732.5,40.0L733.5,41.9L734.5,43.8L735.5,45.9L736.5,48.0L737.5,50.2L738.5,52.5L739.5,54.9L740.5,57.3L741.5,59.7L742.5,62.2L743.5,64.7L744.5,67.2L745.5,69.8L746.5,72.2L747.5,74.7L748.5,77.2L749.5,79.7L750.5,82.1L751.5,84.5L752.5,86.9L753.5,89.1L754.5,91.4L755.5,93.6L756.5,95.8L757.5,97.9L758.5,100.0L759.5,102.0L760.5,104.0L761.5,105.9L762.5,107.8L763.5,109.5L764.5,110.9L765.5,112.0L766.5,113.1L767.5,114.0L768.5,114.9L769.5,115.7L770.5,116.5L771.5,117.3L772.5,118.0L773.5,118.6L774.5,119.2L775.5,119.7L776.5,120.3L777.5,120.7L778.5,121.2L779.5,121.6L780.5,122.0L781.5,122.3L782.5,122.7L783.5,123.0L784.5,123.3L785.5,123.5L786.5,123.7L787.5,124.0L788.5,124.2L789.5,124.3L790.5,124.4L791.5,124.4L792.5,124.5L793.5,124.5L794.5,124.5L795.5,124.5L796.5,124.5L797.5,124.5L798.5,124.4L799.5,124.2L800.5,124.0L801.5,123.9L802.5,123.7L803.5,123.5L804.5,123.4L805.5,123.2L806.5,123.0L806.8,123.0L806.8,144.6L806.5,144.7L805.5,144.9L804.5,145.0L803.5,145.2L802.5,145.4L801.5,145.5L800.5,145.7L799.5,145.8L798.5,145.9L797.5,146.0L796.5,146.2L795.5,146.2L794.5,146.3L793.5,146.3L792.5,146.3L791.5,146.3L790.5,146.3L789.5,146.3L788.5,146.3L787.5,146.3L786.5,146.2L785.5,146.0L784.5,145.8L783.5,145.5L782.5,145.2L781.5,144.9L780.5,144.6L779.5,144.2L778.5,143.8L777.5,143.3L776.5,142.8L775.5,142.3L774.5,141.7L773.5,141.1L772.5,140.5L771.5,139.8L770.5,139.0L769.5,138.2L768.5,137.2L767.5,136.2L766.5,135.0L765.5,133.8L764.5,132.6L763.5,131.3L762.5,129.9L761.5,128.4L760.5,126.9L759.5,125.3L758.5,123.6L757.5,121.9L756.5,120.1L755.5,118.2L754.5,116.3L753.5,114.2L752.5,112.2L751.5,110.0L750.5,107.9L749.5,105.6L748.5,103.3L747.5,101.0L746.5,98.5L745.5,96.0L744.5,93.3L743.5,90.5L742.5,87.6L741.5,84.7L740.5,81.7L739.5,78.7L738.5,75.5L737.5,72.3L736.5,69.2L735.5,66.3L734.5,63.6L733.5,60.9L732.5,58.4L731.5,56.0L730.5,53.8L729.5,51.7L728.5,49.7L727.5,47.9L726.5,46.1L725.5,44.5L724.5,42.9L723.5,41.4L722.5,39.9L721.5,38.5L720.5,37.2L719.5,36.1L718.5,35.2L717.5,34.3L716.5,33.5L715.5,32.9L714.5,32.5L713.5,32.3L712.5,32.1L711.5,31.9L710.5,31.8L709.5,31.8L708.5,31.8L707.5,31.9L706.5,32.0L705.5,32.2L704.5,32.4L703.5,32.6L702.5,32.9L701.5,33.2L700.5,33.5L699.5,33.8L698.5,34.1L697.5,34.6L696.5,35.1L695.5,35.6L694.5,36.2L693.5,36.8L692.5,37.4L691.5,38.0L690.5,38.6L689.5,39.0L688.5,39.5L687.5,39.9L686.5,40.4L685.5,40.8L684.5,41.2L683.5,41.7L682.5,42.2L681.5,42.6L680.5,43.1L679.5,43.6L678.5,44.1L677.5,44.6L676.5,45.0L675.5,45.5L674.5,46.0L673.5,46.5L672.5,46.9L671.5,47.4L670.5,47.8L669.5,48.3L668.5,48.7L667.5,49.2L666.5,49.6L665.5,50.1L664.5,50.5L663.5,50.9L662.5,51.3L661.5,51.7L660.5,52.1L659.5,52.5L658.5,52.8L657.5,53.2L656.5,53.6L655.5,53.9L654.5,54.2L653.5,54.6L652.5,54.9L651.5,55.2L650.5,55.5L649.5,55.8L648.5,56.2L647.5,56.5L646.5,56.8L645.5,57.1L644.5,57.4L643.5,57.7L642.5,58.0L641.5,58.3L640.5,58.6L639.5,58.9L638.5,59.2L637.5,59.5L636.5,59.8L635.5,60.1L634.5,60.4L633.5,60.7L632.5,61.0L631.5,61.3L630.5,61.6L629.5,61.9L628.5,62.3L627.5,62.6L626.5,62.9L625.5,63.2L624.5,63.5L623.5,63.8L622.5,64.1L621.5,64.4L620.5,64.7L619.5,65.0L618.5,65.3L617.5,65.6L616.5,65.9L615.5,66.2L614.5,66.5L613.5,66.8L612.5,67.0L611.5,67.3L610.5,67.6L609.5,67.9L608.5,68.2L607.5,68.5L606.5,68.8L605.5,69.1L604.5,69.3L603.5,69.6L602.5,69.9L601.5,70.2L600.5,70.4L599.5,70.7L598.5,71.0L597.5,71.2L596.5,71.5L595.5,71.8L594.5,72.0L593.5,72.3L592.5,72.5L591.5,72.8L590.5,73.1L589.5,73.3L588.5,73.6L587.5,73.8L586.5,74.1L585.5,74.3L584.5,74.6L583.5,74.9L582.5,75.1L581.5,75.4L580.5,75.6L579.5,75.9L578.5,76.1L577.5,76.4L576.5,76.6L575.5,76.9L574.5,77.1L573.5,77.4L572.5,77.6L571.5,77.8L570.5,78.1L569.5,78.3L568.5,78.5L567.5,78.7L566.5,79.0L565.5,79.2L564.5,79.4L563.5,79.6L562.5,79.8L561.5,80.0L560.5,80.2L559.5,80.3L558.5,80.5L557.5,80.7L556.5,80.9L555.5,81.0L554.5,81.2L553.5,81.3L552.5,81.5L551.5,81.6L550.5,81.7L549.5,81.9L548.5,82.0L547.5,82.1L546.5,82.3L545.5,82.4L544.5,82.5L543.5,82.6L542.5,82.7L541.5,82.8L540.5,82.9L539.5,83.0L538.5,83.2L537.5,83.3L536.5,83.4L535.5,83.5L534.5,83.6L533.5,83.7L532.5,83.8L531.5,83.9L530.5,84.0L529.5,84.1L528.5,84.2L527.5,84.3L526.5,84.4L525.5,84.5L524.5,84.6L523.5,84.7L522.5,84.8L521.5,84.9L520.5,85.0L519.5,85.1L518.5,85.2L517.5,85.3L516.5,85.4L515.5,85.4L514.5,85.5L513.5,85.6L512.5,85.7L511.5,85.8L510.5,85.9L509.5,86.0L508.5,86.1L507.5,86.2L506.5,86.3L505.5,86.3L504.5,86.4L503.5,86.5L502.5,86.6L501.5,86.7L500.5,86.8L499.5,86.8L498.5,86.9L497.5,87.0L496.5,87.1L495.5,87.2L494.5,87.3L493.5,87.3L492.5,87.4L491.5,87.5L490.5,87.6L489.5,87.6L488.5,87.7L487.5,87.8L486.5,87.9L485.5,87.9L484.5,88.0L483.5,88.1L482.5,88.2L481.5,88.2L480.5,88.3L479.5,88.4L478.5,88.4L477.5,88.5L476.5,88.6L475.5,88.7L474.5,88.7L473.5,88.8L472.5,88.9L471.5,88.9L470.5,89.0L469.5,89.1L468.5,89.1L467.5,89.2L466.5,89.3L465.5,89.3L464.5,89.4L463.5,89.5L462.5,89.5L461.5,89.6L460.5,89.7L459.5,89.7L458.5,89.8L457.5,89.8L456.5,89.9L455.5,90.0L454.5,90.0L453.5,90.1L452.5,90.1L451.5,90.2L450.5,90.3L449.5,90.3L448.5,90.4L447.5,90.4L446.5,90.5L445.5,90.5L444.5,90.6L443.5,90.6L442.5,90.7L441.5,90.7L440.5,90.8L439.5,90.8L438.5,90.9Z" fill="#ffb3b3" stroke="none"/>
<path d="M445.2,97.7L446.2,97.6L447.2,97.6L448.2,97.6L449.2,97.6L450.2,97.6L451.2,97.6L452.2,97.6L453.2,97.5L454.2,97.5L455.2,97.5L456.2,97.5L457.2,97.5L458.2,97.5L459.2,97.4L460.2,97.4L461.2,97.4L462.2,97.4L463.2,97.4L464.2,97.4L465.2,97.3L466.2,97.3L467.2,97.3L468.2,97.3L469.2,97.3L470.2,97.2L471.2,97.2L472.2,97.2L473.2,97.2L474.2,97.2L475.2,97.1L476.2,97.1L477.2,97.1L478.2,97.1L479.2,97.0L480.2,97.0L481.2,97.0L482.2,97.0L483.2,97.0L484.2,96.9L485.2,96.9L486.2,96.9L487.2,96.9L488.2,96.8L489.2,96.8L490.2,96.8L491.2,96.8L492.2,96.7L493.2,96.7L494.2,96.7L495.2,96.6L496.2,96.6L497.2,96.6L498.2,96.6L499.2,96.5L500.2,96.5L501.2,96.5L502.2,96.4L503.2,96.4L504.2,96.4L505.2,96.3L506.2,96.3L507.2,96.3L508.2,96.2L509.2,96.2L510.2,96.1L511.2,96.1L512.2,96.1L513.2,96.0L514.2,96.0L515.2,95.9L516.2,95.9L517.2,95.8L518.2,95.8L519.2,95.7L520.2,95.7L521.2,95.6L522.2,95.5L523.2,95.5L524.2,95.4L525.2,95.4L526.2,95.3L527.2,95.3L528.2,95.2L529.2,95.2L530.2,95.1L531.2,95.1L532.2,95.0L533.2,95.0L534.2,94.9L535.2,94.9L536.2,94.8L537.2,94.8L538.2,94.7L539.2,94.7L540.2,94.6L541.2,94.6L542.2,94.5L543.2,94.5L544.2,94.5L545.2,94.4L546.2,94.4L547.2,94.3L548.2,94.3L549.2,94.2L550.2,94.2L551.2,94.1L552.2,94.1L553.2,94.0L554.2,93.9L555.2,93.9L556.2,93.8L557.2,93.8L558.2,93.7L559.2,93.6L560.2,93.6L561.2,93.5L562.2,93.4L563.2,93.3L564.2,93.3L565.2,93.2L566.2,93.1L567.2,93.0L568.2,92.9L569.2,92.8L570.2,92.8L571.2,92.7L572.2,92.6L573.2,92.5L574.2,92.4L575.2,92.3L576.2,92.2L577.2,92.1L578.2,92.0L579.2,91.9L580.2,91.8L581.2,91.7L582.2,91.6L583.2,91.5L584.2,91.4L585.2,91.2L586.2,91.1L587.2,91.0L588.2,90.9L589.2,90.8L590.2,90.7L591.2,90.6L592.2,90.5L593.2,90.4L594.2,90.2L595.2,90.1L596.2,90.0L597.2,89.9L598.2,89.7L599.2,89.6L600.2,89.5L601.2,89.4L602.2,89.2L603.2,89.1L604.2,89.0L605.2,88.8L606.2,88.7L607.2,88.6L608.2,88.4L609.2,88.3L610.2,88.2L611.2,88.1L612.2,87.9L613.2,87.8L614.2,87.7L615.2,87.5L616.2,87.4L617.2,87.3L618.2,87.1L619.2,87.0L620.2,86.9L621.2,86.7L622.2,86.6L623.2,86.4L624.2,86.3L625.2,86.2L626.2,86.0L627.2,85.9L628.2,85.7L629.2,85.6L630.2,85.5L631.2,85.3L632.2,85.2L633.2,85.1L634.2,85.0L635.2,84.8L636.2,84.7L637.2,84.6L638.2,84.5L639.2,84.4L640.2,84.2L641.2,84.1L642.2,84.0L643.2,83.9L644.2,83.8L645.2,83.7L646.2,83.6L647.2,83.5L648.2,83.4L649.2,83.3L650.2,83.3L651.2,83.2L652.2,83.1L653.2,83.0L654.2,82.9L655.2,82.8L656.2,82.7L657.2,82.6L658.2,82.5L659.2,82.4L660.2,82.3L661.2,82.2L662.2,82.1L663.2,82.0L664.2,81.9L665.2,81.8L666.2,81.7L667.2,81.6L668.2,81.5L669.2,81.4L670.2,81.3L671.2,81.2L672.2,81.0L673.2,80.9L674.2,80.8L675.2,80.7L676.2,80.6L677.2,80.5L678.2,80.4L679.2,80.3L680.2,80.2L681.2,80.1L682.2,80.0L683.2,79.9L684.2,79.8L685.2,79.7L686.2,79.6L687.2,79.5L688.2,79.4L689.2,79.3L690.2,79.2L691.2,79.1L692.2,79.0L693.2,78.9L694.2,78.8L695.2,78.7L696.2,78.6L697.2,78.6L698.2,78.5L699.2,78.4L700.2,78.3L701.2,78.2L702.2,78.1L703.2,78.0L704.2,77.9L705.2,77.8L706.2,77.8L707.2,77.7L708.2,77.6L709.2,77.5L710.2,77.4L711.2,77.3L712.2,77.2L713.2,77.1L714.2,77.0L715.2,76.9L716.2,76.8L717.2,76.7L718.2,76.7L719.2,76.6L720.2,76.5L721.2,76.4L722.2,76.4L723.2,76.3L724.2,76.3L725.2,76.2L726.2,76.2L727.2,76.1L728.2,76.1L729.2,76.0L730.2,76.0L731.2,76.0L732.2,75.9L733.2,75.9L734.2,75.9L735.2,75.9L736.2,76.0L737.2,76.1L738.2,76.4L739.2,76.8L740.2,77.2L741.2,77.6L742.2,78.0L743.2,78.5L744.2,79.0L745.2,79.6L746.2,80.3L747.2,81.0L748.2,81.8L749.2,82.6L750.2,83.4L751.2,84.4L752.2,85.4L753.2,86.4L754.2,87.5L755.2,88.7L756.2,89.9L757.2,91.2L758.2,92.7L759.2,94.3L760.2,96.1L761.2,97.8L762.2,99.6L763.2,101.2L764.2,102.7L765.2,104.1L766.2,105.5L767.2,107.0L768.2,108.6L769.2,110.4L770.2,112.0L771.2,113.3L772.2,114.5L773.2,115.6L774.2,116.6L775.2,117.6L776.2,118.6L777.2,119.5L778.2,120.3L779.2,121.0L780.2,121.6L781.2,122.1L782.2,122.6L783.2,123.0L784.2,123.3L785.2,123.6L786.2,123.9L787.2,124.2L788.2,124.4L789.2,124.6L790.2,124.7L791.2,124.7L792.2,124.7L793.2,124.7L794.2,124.7L795.2,124.7L796.2,124.7L797.2,124.7L798.2,124.6L799.2,124.4L800.2,124.2L801.2,124.0L802.2,123.8L803.2,123.7L804.2,123.6L805.2,123.4L806.2,123.3L807.2,123.2L808.2,123.1L809.2,123.0L810.2,122.9L811.2,122.7L812.2,122.6L813.2,122.4L814.2,122.3L814.5,122.2" fill="none" stroke="#00a500" stroke-width="2.1" stroke-linecap="butt" stroke-linejoin="round" stroke-dasharray="2.2 4.1"/>
<path d="M438.5,96.3L439.5,96.3L440.5,96.2L441.5,96.2L442.5,96.1L443.5,96.1L444.5,96.1L445.5,96.0L446.5,96.0L447.5,95.9L448.5,95.9L449.5,95.8L450.5,95.8L451.5,95.7L452.5,95.7L453.5,95.6L454.5,95.6L455.5,95.5L456.5,95.4L457.5,95.4L458.5,95.3L459.5,95.3L460.5,95.2L461.5,95.1L462.5,95.1L463.5,95.0L464.5,94.9L465.5,94.9L466.5,94.8L467.5,94.7L468.5,94.6L469.5,94.5L470.5,94.4L471.5,94.4L472.5,94.3L473.5,94.2L474.5,94.1L475.5,94.0L476.5,93.9L477.5,93.8L478.5,93.7L479.5,93.6L480.5,93.5L481.5,93.5L482.5,93.4L483.5,93.3L484.5,93.2L485.5,93.1L486.5,93.0L487.5,92.9L488.5,92.8L489.5,92.7L490.5,92.6L491.5,92.6L492.5,92.5L493.5,92.4L494.5,92.3L495.5,92.2L496.5,92.1L497.5,92.0L498.5,91.9L499.5,91.8L500.5,91.7L501.5,91.6L502.5,91.5L503.5,91.4L504.5,91.3L505.5,91.2L506.5,91.1L507.5,91.0L508.5,90.9L509.5,90.8L510.5,90.7L511.5,90.6L512.5,90.5L513.5,90.4L514.5,90.3L515.5,90.2L516.5,90.1L517.5,90.0L518.5,89.9L519.5,89.8L520.5,89.6L521.5,89.5L522.5,89.4L523.5,89.3L524.5,89.2L525.5,89.1L526.5,88.9L527.5,88.8L528.5,88.7L529.5,88.6L530.5,88.4L531.5,88.3L532.5,88.2L533.5,88.0L534.5,87.9L535.5,87.8L536.5,87.6L537.5,87.5L538.5,87.3L539.5,87.2L540.5,87.0L541.5,86.8L542.5,86.7L543.5,86.5L544.5,86.4L545.5,86.2L546.5,86.1L547.5,85.9L548.5,85.7L549.5,85.6L550.5,85.4L551.5,85.2L552.5,85.1L553.5,84.9L554.5,84.8L555.5,84.6L556.5,84.5L557.5,84.3L558.5,84.2L559.5,84.1L560.5,84.0L561.5,83.8L562.5,83.7L563.5,83.6L564.5,83.4L565.5,83.3L566.5,83.1L567.5,83.0L568.5,82.8L569.5,82.6L570.5,82.4L571.5,82.2L572.5,82.0L573.5,81.8L574.5,81.6L575.5,81.4L576.5,81.1L577.5,80.9L578.5,80.7L579.5,80.4L580.5,80.2L581.5,79.9L582.5,79.6L583.5,79.3L584.5,79.1L585.5,78.8L586.5,78.5L587.5,78.2L588.5,77.9L589.5,77.6L590.5,77.3L591.5,77.0L592.5,76.7L593.5,76.4L594.5,76.1L595.5,75.8L596.5,75.4L597.5,75.1L598.5,74.7L599.5,74.3L600.5,73.9L601.5,73.5L602.5,73.1L603.5,72.6L604.5,72.1L605.5,71.6L606.5,71.0L607.5,70.3L608.0,70.0L609.0,69.5L610.0,69.0L611.0,68.6L612.0,68.1L613.0,67.6L614.0,67.1L615.0,66.6L616.0,66.1L617.0,65.6L618.0,65.1L619.0,64.6L620.0,64.1L621.0,63.5L622.0,63.0L623.0,62.5L624.0,62.0L625.0,61.5L626.0,61.0L627.0,60.5L628.0,60.1L629.0,59.6L630.0,59.2L631.0,58.7L632.0,58.2L633.0,57.8L634.0,57.4L635.0,56.9L636.0,56.5L637.0,56.1L638.0,55.6L639.0,55.2L640.0,54.8L641.0,54.4L642.0,54.0L643.0,53.5L644.0,53.1L645.0,52.7L646.0,52.3L647.0,51.9L648.0,51.6L649.0,51.2L650.0,50.8L651.0,50.4L652.0,50.1L653.0,49.7L654.0,49.4L655.0,49.0L656.0,48.7L657.0,48.3L658.0,48.0L659.0,47.7L660.0,47.3L661.0,47.0L662.0,46.6L663.0,46.2L664.0,45.9L665.0,45.5L666.0,45.1L667.0,44.7L668.0,44.3L669.0,43.9L670.0,43.5L671.0,43.1L672.0,42.8L673.0,42.5L674.0,42.1L675.0,41.8L676.0,41.5L677.0,41.2L678.0,40.9L679.0,40.6L680.0,40.3L681.0,40.1L682.0,39.8L683.0,39.6L684.0,39.4L685.0,39.2L686.0,39.0L687.0,38.8L688.0,38.6L689.0,38.4L690.0,38.3L691.0,38.1L692.0,38.0L693.0,37.9L694.0,37.8L695.0,37.8L696.0,37.8L697.0,37.9L698.0,38.0L699.0,38.1L700.0,38.3L701.0,38.5L702.0,38.8L703.0,39.0L704.0,39.3L705.0,39.6L706.0,39.9L707.0,40.2L708.0,40.6L709.0,41.1L710.0,41.7L711.0,42.4L712.0,43.1L713.0,43.9L714.0,44.7L715.0,45.6L716.0,46.7L717.0,47.8L718.0,48.9L719.0,50.1L720.0,51.3L721.0,52.7L722.0,54.1L723.0,55.6L724.0,57.1L725.0,58.5L726.0,60.0L727.0,61.6L728.0,63.2L729.0,64.8L730.0,66.4L731.0,68.1L732.0,70.0L733.0,71.8L734.0,73.7L735.0,75.6L736.0,77.4L737.0,79.0L738.0,80.5L739.0,82.3L740.0,84.4L741.0,86.8L742.0,89.3L743.0,91.9L744.0,94.4L745.0,96.7L746.0,99.0L747.0,101.2L748.0,103.4L749.0,105.5L750.0,107.6L751.0,109.8L752.0,111.9L753.0,114.0L754.0,116.0L755.0,118.0L756.0,119.9L757.0,121.8L758.0,123.6L759.0,125.4L760.0,127.1L761.0,128.7L762.0,130.2L763.0,131.7L764.0,133.1L765.0,134.4L766.0,135.7L767.0,136.9L768.0,137.9L769.0,138.8L770.0,139.7L771.0,140.5L772.0,141.2L773.0,141.8L774.0,142.4L775.0,142.8L776.0,143.3L777.0,143.7L778.0,144.1L779.0,144.4L780.0,144.7L781.0,144.9L782.0,145.2L783.0,145.4L784.0,145.6L785.0,145.8L786.0,146.0L787.0,146.2L788.0,146.3L789.0,146.3L790.0,146.3L791.0,146.2L792.0,146.1L793.0,145.9L794.0,145.7L795.0,145.5L796.0,145.3L797.0,145.0L798.0,144.8L799.0,144.5L800.0,144.2L801.0,143.8L802.0,143.4L803.0,142.9L804.0,142.4L805.0,142.0L806.0,141.5L807.0,141.0L808.0,140.5L809.0,140.1L810.0,139.6L811.0,139.1L812.0,138.6L813.0,138.0L814.0,137.5L814.6,137.2" fill="none" stroke="#000000" stroke-width="2.15" stroke-linecap="butt" stroke-linejoin="round" stroke-dasharray="12.7 3.9 2.0 3.9"/>
<path d="M438.5,88.0L439.5,88.0L440.5,87.9L441.5,87.9L442.5,87.8L443.5,87.8L444.5,87.7L445.5,87.7L446.5,87.6L447.5,87.6L448.5,87.5L449.5,87.4L450.5,87.4L451.5,87.3L452.5,87.3L453.5,87.2L454.5,87.2L455.5,87.1L456.5,87.1L457.5,87.0L458.5,86.9L459.5,86.9L460.5,86.8L461.5,86.8L462.5,86.7L463.5,86.6L464.5,86.6L465.5,86.5L466.5,86.5L467.5,86.4L468.5,86.3L469.5,86.3L470.5,86.2L471.5,86.1L472.5,86.1L473.5,86.0L474.5,85.9L475.5,85.9L476.5,85.8L477.5,85.7L478.5,85.7L479.5,85.6L480.5,85.5L481.5,85.5L482.5,85.4L483.5,85.3L484.5,85.3L485.5,85.2L486.5,85.1L487.5,85.1L488.5,85.0L489.5,84.9L490.5,84.8L491.5,84.8L492.5,84.7L493.5,84.6L494.5,84.5L495.5,84.5L496.5,84.4L497.5,84.3L498.5,84.3L499.5,84.2L500.5,84.1L501.5,84.0L502.5,83.9L503.5,83.9L504.5,83.8L505.5,83.7L506.5,83.6L507.5,83.5L508.5,83.5L509.5,83.4L510.5,83.3L511.5,83.2L512.5,83.1L513.5,83.0L514.5,83.0L515.5,82.9L516.5,82.8L517.5,82.7L518.5,82.6L519.5,82.5L520.5,82.4L521.5,82.3L522.5,82.2L523.5,82.1L524.5,82.0L525.5,81.9L526.5,81.8L527.5,81.7L528.5,81.6L529.5,81.5L530.5,81.4L531.5,81.3L532.5,81.2L533.5,81.1L534.5,81.0L535.5,80.8L536.5,80.7L537.5,80.6L538.5,80.5L539.5,80.3L540.5,80.2L541.5,80.1L542.5,79.9L543.5,79.8L544.5,79.7L545.5,79.5L546.5,79.4L547.5,79.2L548.5,79.1L549.5,78.9L550.5,78.8L551.5,78.6L552.5,78.5L553.5,78.3L554.5,78.1L555.5,78.0L556.5,77.8L557.5,77.7L558.5,77.5L559.5,77.3L560.5,77.1L561.5,77.0L562.5,76.8L563.5,76.6L564.5,76.4L565.5,76.3L566.5,76.1L567.5,75.9L568.5,75.7L569.5,75.5L570.5,75.3L571.5,75.1L572.5,74.9L573.5,74.7L574.5,74.5L575.5,74.3L576.5,74.1L577.5,73.9L578.5,73.7L579.5,73.4L580.5,73.2L581.5,73.0L582.5,72.7L583.5,72.5L584.5,72.3L585.5,72.0L586.5,71.8L587.5,71.5L588.5,71.3L589.5,71.0L590.5,70.8L591.5,70.5L592.5,70.3L593.5,70.0L594.5,69.8L595.5,69.5L596.5,69.2L597.5,69.0L598.5,68.7L599.5,68.4L600.5,68.2L601.5,67.9L602.5,67.6L603.5,67.3L604.5,67.1L605.5,66.8L606.5,66.5L607.5,66.2L608.5,66.0L609.5,65.7L610.5,65.4L611.5,65.1L612.5,64.8L613.5,64.5L614.5,64.3L615.5,64.0L616.5,63.7L617.5,63.4L618.5,63.1L619.5,62.8L620.5,62.5L621.5,62.3L622.5,62.0L623.5,61.7L624.5,61.4L625.5,61.1L626.5,60.8L627.5,60.5L628.5,60.2L629.5,59.9L630.5,59.6L631.5,59.3L632.5,59.0L633.5,58.7L634.5,58.4L635.5,58.1L636.5,57.7L637.5,57.4L638.5,57.1L639.5,56.8L640.5,56.5L641.5,56.1L642.5,55.8L643.5,55.5L644.5,55.1L645.5,54.8L646.5,54.4L647.5,54.1L648.5,53.7L649.5,53.4L650.5,53.0L651.5,52.6L652.5,52.2L653.5,51.9L654.5,51.5L655.5,51.1L656.5,50.7L657.5,50.3L658.5,49.9L659.5,49.5L660.5,49.1L661.5,48.7L662.5,48.2L663.5,47.7L664.5,47.2L665.5,46.7L666.5,46.2L667.5,45.7L668.5,45.2L669.5,44.7L670.5,44.1L671.5,43.6L672.5,43.1L673.5,42.5L674.5,42.0L675.5,41.5L676.5,40.9L677.5,40.3L678.5,39.8L679.5,39.2L680.5,38.6L681.5,38.0L682.5,37.4L683.5,36.8L684.5,36.2L685.5,35.5L686.5,34.8L687.5,34.1L688.5,33.4L689.5,32.7L690.5,32.0L691.5,31.3L692.5,30.6L693.5,29.9L694.5,29.2L695.5,28.6L696.5,28.0L697.5,27.4L698.5,26.8L699.5,26.2L700.5,25.6L701.5,25.0L702.5,24.4L703.5,23.9L704.5,23.4L705.5,22.9L706.5,22.5L707.5,22.1L708.5,21.6L709.5,21.2L710.5,20.8L711.5,20.4L712.5,20.1L713.5,19.8L714.5,19.7L715.5,19.7L716.5,19.8L717.5,20.0L718.5,20.2L719.5,20.4L720.5,20.7L721.5,21.0L722.5,21.4L723.5,22.0L724.5,22.6L725.5,23.4L726.5,24.3L727.5,25.2L728.5,26.3L729.5,27.4L730.5,28.6L731.5,30.1L732.5,31.9L733.5,34.0L734.5,36.2L735.5,38.6L736.5,40.9L737.5,43.4L738.5,46.1L739.5,48.9L740.5,51.7L741.5,54.3L742.5,57.0L743.5,59.8L744.5,62.4L745.5,64.9L746.5,67.1L747.5,69.1L748.5,71.0L749.5,72.9L750.5,74.9L751.5,76.9L752.5,78.9L753.5,80.9L754.5,82.9L755.5,84.9L756.5,87.0L757.5,89.1L758.5,91.2L759.5,93.1L760.5,95.0L761.5,96.6L762.5,98.1L763.5,99.5L764.5,100.9L765.5,102.2L766.5,103.4L767.5,104.5L768.5,105.6L769.5,106.7L770.5,107.8L771.5,108.8L772.5,109.8L773.5,110.8L774.5,111.7L775.5,112.6L776.5,113.3L777.5,114.0L778.5,114.5L779.5,115.0L780.5,115.5L781.5,115.9L782.5,116.4L783.5,116.7L784.5,117.1L785.5,117.4L786.5,117.7L787.5,118.0L788.5,118.2L789.5,118.5L790.5,118.6L791.5,118.8L792.5,119.0L793.5,119.1L794.5,119.3L795.5,119.4L796.5,119.5L797.5,119.7L798.5,119.8L799.5,119.8L800.5,119.9L801.5,120.0L802.5,120.0L803.5,120.0L804.5,120.0L805.5,120.0L806.5,120.0L806.8,120.0" fill="none" stroke="#ff0000" stroke-width="1.9" stroke-linecap="butt" stroke-linejoin="round" stroke-dasharray="13 12" stroke-dashoffset="3.92"/>
<path d="M438.5,88.5L439.5,88.5L440.5,88.4L441.5,88.4L442.5,88.4L443.5,88.4L444.5,88.3L445.5,88.3L446.5,88.2L447.5,88.2L448.5,88.2L449.5,88.1L450.5,88.1L451.5,88.0L452.5,88.0L453.5,87.9L454.5,87.9L455.5,87.8L456.5,87.8L457.5,87.7L458.5,87.7L459.5,87.6L460.5,87.6L461.5,87.5L462.5,87.5L463.5,87.4L464.5,87.3L465.5,87.3L466.5,87.2L467.5,87.1L468.5,87.1L469.5,87.0L470.5,86.9L471.5,86.8L472.5,86.7L473.5,86.6L474.5,86.6L475.5,86.5L476.5,86.4L477.5,86.3L478.5,86.2L479.5,86.1L480.5,86.0L481.5,85.9L482.5,85.8L483.5,85.8L484.5,85.7L485.5,85.6L486.5,85.5L487.5,85.4L488.5,85.3L489.5,85.3L490.5,85.2L491.5,85.1L492.5,85.0L493.5,84.9L494.5,84.8L495.5,84.8L496.5,84.7L497.5,84.6L498.5,84.5L499.5,84.4L500.5,84.3L501.5,84.2L502.5,84.2L503.5,84.1L504.5,84.0L505.5,83.9L506.5,83.8L507.5,83.7L508.5,83.6L509.5,83.5L510.5,83.4L511.5,83.4L512.5,83.3L513.5,83.2L514.5,83.1L515.5,83.0L516.5,82.9L517.5,82.8L518.5,82.7L519.5,82.6L520.5,82.5L521.5,82.4L522.5,82.4L523.5,82.3L524.5,82.2L525.5,82.1L526.5,82.0L527.5,81.9L528.5,81.8L529.5,81.7L530.5,81.6L531.5,81.5L532.5,81.4L533.5,81.3L534.5,81.2L535.5,81.1L536.5,81.0L537.5,80.9L538.5,80.7L539.5,80.6L540.5,80.5L541.5,80.4L542.5,80.3L543.5,80.2L544.5,80.1L545.5,79.9L546.5,79.8L547.5,79.7L548.5,79.6L549.5,79.5L550.5,79.3L551.5,79.2L552.5,79.1L553.5,78.9L554.5,78.8L555.5,78.6L556.5,78.4L557.5,78.3L558.5,78.1L559.5,77.9L560.5,77.6L561.5,77.4L562.5,77.2L563.5,77.0L564.5,76.7L565.5,76.5L566.5,76.3L567.5,76.0L568.5,75.8L569.5,75.6L570.5,75.4L571.5,75.1L572.5,74.9L573.5,74.7L574.5,74.4L575.5,74.2L576.5,74.0L577.5,73.8L578.5,73.5L579.5,73.3L580.5,73.1L581.5,72.8L582.5,72.6L583.5,72.3L584.5,72.1L585.5,71.9L586.5,71.6L587.5,71.4L588.5,71.1L589.5,70.9L590.5,70.6L591.5,70.4L592.5,70.1L593.5,69.9L594.5,69.6L595.5,69.4L596.5,69.1L597.5,68.9L598.5,68.6L599.5,68.4L600.5,68.1L601.5,67.8L602.5,67.6L603.5,67.3L604.5,67.0L605.5,66.8L606.5,66.5L607.5,66.2L608.5,66.0L609.5,65.7L610.5,65.4L611.5,65.1L612.5,64.8L613.5,64.6L614.5,64.3L615.5,64.0L616.5,63.7L617.5,63.4L618.5,63.1L619.5,62.8L620.5,62.5L621.5,62.2L622.5,61.8L623.5,61.5L624.5,61.2L625.5,60.9L626.5,60.6L627.5,60.2L628.5,59.9L629.5,59.6L630.5,59.2L631.5,58.9L632.5,58.6L633.5,58.3L634.5,57.9L635.5,57.6L636.5,57.3L637.5,56.9L638.5,56.6L639.5,56.3L640.5,55.9L641.5,55.6L642.5,55.3L643.5,55.0L644.5,54.7L645.5,54.3L646.5,54.0L647.5,53.7L648.5,53.4L649.5,53.1L650.5,52.7L651.5,52.4L652.5,52.1L653.5,51.7L654.5,51.4L655.5,51.0L656.5,50.7L657.5,50.3L658.5,49.9L659.5,49.5L660.5,49.1L661.5,48.7L662.5,48.2L663.5,47.8L664.5,47.3L665.5,46.8L666.5,46.3L667.5,45.8L668.5,45.3L669.5,44.8L670.5,44.3L671.5,43.8L672.5,43.3L673.5,42.8L674.5,42.2L675.5,41.7L676.5,41.2L677.5,40.6L678.5,40.1L679.5,39.6L680.5,39.0L681.5,38.5L682.5,37.9L683.5,37.4L684.5,36.9L685.5,36.3L686.5,35.8L687.5,35.2L688.5,34.7L689.5,34.1L690.5,33.6L691.5,33.1L692.5,32.6L693.5,32.1L694.5,31.6L695.5,31.2L696.5,30.7L697.5,30.3L698.5,29.8L699.5,29.4L700.5,29.1L701.5,28.7L702.5,28.4L703.5,28.2L704.5,28.0L705.5,27.7L706.5,27.5L707.5,27.3L708.5,27.2L709.5,27.1L710.5,27.0L711.5,27.0L712.5,27.1L713.5,27.2L714.5,27.4L715.5,27.7L716.5,28.0L717.5,28.3L718.5,28.7L719.5,29.2L720.5,30.0L721.5,31.1L722.5,32.3L723.5,33.5L724.5,34.6L725.5,35.7L726.5,36.9L727.5,38.2L728.5,39.7L729.5,41.3L730.5,43.3L731.5,45.7L732.5,48.2L733.5,50.9L734.5,53.6L735.5,56.2L736.5,58.8L737.5,61.3L738.5,63.9L739.5,66.5L740.5,69.1L741.5,71.7L742.5,74.3L743.5,76.9L744.5,79.5L745.5,82.1L746.5,84.7L747.5,87.3L748.5,90.0L749.5,92.7L750.5,95.3L751.5,98.0L752.5,100.5L753.5,103.0L754.5,105.4L755.5,107.4L756.5,109.4L757.5,111.2L758.5,112.9L759.5,114.5L760.5,116.1L761.5,117.5L762.5,119.0L763.5,120.3L764.5,121.5L765.5,122.7L766.5,123.9L767.5,125.0L768.5,126.0L769.5,126.9L770.5,127.7L771.5,128.4L772.5,129.1L773.5,129.7L774.5,130.3L775.5,130.9L776.5,131.4L777.5,131.9L778.5,132.3L779.5,132.6L780.5,133.0L781.5,133.3L782.5,133.5L783.5,133.7L784.5,133.9L785.5,134.1L786.5,134.2L787.5,134.3L788.5,134.4L789.5,134.5L790.5,134.6L791.5,134.6L792.5,134.6L793.5,134.6L794.5,134.5L795.5,134.5L796.5,134.4L797.5,134.4L798.5,134.3L799.5,134.2L800.5,134.2L801.5,134.0L802.5,133.9L803.5,133.7L804.5,133.5L805.5,133.2L806.5,133.0L806.8,132.9" fill="none" stroke="#ff0000" stroke-width="2.0" stroke-linecap="butt" stroke-linejoin="round"/>
</g>
<g id="bl">
<path d="M24.4,189.9L25.4,189.9L26.4,189.9L27.4,189.9L28.4,189.9L29.4,189.9L30.4,189.9L31.4,190.0L32.4,190.0L33.4,190.0L34.4,190.0L35.4,190.0L36.4,190.0L37.4,190.1L38.4,190.1L39.4,190.1L40.4,190.1L41.4,190.2L42.4,190.2L43.4,190.2L44.4,190.2L45.4,190.3L46.4,190.3L47.4,190.3L48.4,190.3L49.4,190.4L50.4,190.4L51.4,190.5L52.4,190.5L53.4,190.6L54.4,190.6L55.4,190.7L56.4,190.7L57.4,190.8L58.4,190.8L59.4,190.9L60.4,191.0L61.4,191.0L62.4,191.1L63.4,191.2L64.4,191.3L65.4,191.3L66.4,191.4L67.4,191.5L68.4,191.5L69.4,191.6L70.4,191.7L71.4,191.8L72.4,191.9L73.4,191.9L74.4,192.0L75.4,192.1L76.4,192.2L77.4,192.3L78.4,192.4L79.4,192.5L80.4,192.6L81.4,192.7L82.4,192.8L83.4,192.9L84.4,193.0L85.4,193.2L86.4,193.3L87.4,193.4L88.4,193.5L89.4,193.6L90.4,193.7L91.4,193.8L92.4,193.9L93.4,194.1L94.4,194.2L95.4,194.3L96.4,194.4L97.4,194.5L98.4,194.6L99.4,194.7L100.4,194.8L101.4,194.9L102.4,195.0L103.4,195.1L104.4,195.3L105.4,195.4L106.4,195.5L107.4,195.6L108.4,195.7L109.4,195.8L110.4,196.0L111.4,196.1L112.4,196.2L113.4,196.4L114.4,196.5L115.4,196.6L116.4,196.8L117.4,196.9L118.4,197.1L119.4,197.2L120.4,197.4L121.4,197.6L122.4,197.8L123.4,198.0L124.4,198.2L125.4,198.4L126.4,198.6L127.4,198.8L128.4,199.0L129.4,199.1L130.4,199.3L131.4,199.4L132.4,199.5L133.4,199.6L134.4,199.7L135.4,199.8L136.4,199.9L137.4,200.0L138.4,200.1L139.4,200.2L140.4,200.3L141.4,200.4L142.4,200.4L143.4,200.5L144.4,200.6L145.4,200.6L146.4,200.7L147.4,200.8L148.4,200.8L149.4,200.9L150.4,200.9L151.4,200.9L152.4,201.0L153.4,201.0L154.4,201.0L155.4,201.0L156.4,201.1L157.4,201.1L158.4,201.1L159.4,201.1L160.4,201.1L161.4,201.1L162.4,201.0L163.4,200.9L164.4,200.8L165.4,200.7L166.4,200.6L167.4,200.4L168.4,200.3L169.4,200.1L170.4,199.9L171.4,199.7L172.4,199.5L173.4,199.3L174.4,199.1L175.4,198.9L176.4,198.7L177.4,198.4L178.4,198.1L179.4,197.8L180.4,197.5L181.4,197.0L182.4,196.5L183.4,196.0L184.4,195.2L185.4,194.3L186.4,193.1L187.4,191.7L188.4,190.2L189.4,188.2L190.4,186.3L191.4,185.0L192.4,183.9L193.4,183.0L194.4,182.4L195.4,182.0L196.4,181.7L197.4,181.4L198.4,181.3L199.4,181.3L200.4,181.5L201.4,181.8L202.4,182.2L203.4,182.6L204.4,183.0L205.4,183.7L206.4,184.4L207.4,185.2L208.4,186.0L209.4,186.8L210.4,187.5L211.4,188.4L212.4,189.2L213.4,190.1L214.4,191.0L215.4,192.0L216.4,193.1L217.4,194.1L218.4,195.1L219.4,196.1L220.4,197.1L221.4,198.1L222.4,199.1L223.4,200.1L224.4,201.1L225.4,202.2L226.4,203.2L227.4,204.2L228.4,205.2L229.4,206.2L230.4,207.2L231.4,208.1L232.4,209.1L233.4,210.1L234.4,211.0L235.4,211.9L236.4,212.8L237.4,213.7L238.4,214.6L239.4,215.4L240.4,216.3L241.4,217.1L242.4,218.0L243.4,218.8L244.4,219.6L245.4,220.4L246.4,221.1L247.4,221.9L248.4,222.6L249.4,223.3L250.4,224.0L251.4,224.7L252.4,225.4L253.4,226.0L254.4,226.7L255.4,227.3L256.4,228.0L257.4,228.6L258.4,229.2L259.4,229.9L260.4,230.5L261.4,231.1L262.4,231.7L263.4,232.3L264.4,232.9L265.4,233.5L266.4,234.1L267.4,234.7L268.4,235.3L269.4,235.9L270.4,236.5L271.4,237.1L272.4,237.7L273.4,238.3L274.4,239.0L275.4,239.6L276.4,240.2L277.4,240.8L278.4,241.4L279.4,242.0L280.4,242.6L281.4,243.2L282.4,243.8L283.4,244.3L284.4,244.9L285.4,245.4L286.4,245.9L287.4,246.4L288.4,247.0L289.4,247.5L290.4,248.0L291.4,248.5L292.4,248.9L293.4,249.4L294.4,249.9L295.4,250.3L296.4,250.8L297.4,251.2L298.4,251.7L299.4,252.1L300.4,252.5L301.4,253.0L302.4,253.4L303.4,253.8L304.4,254.2L305.4,254.6L306.4,255.0L307.4,255.3L308.4,255.7L309.4,256.1L310.4,256.5L311.4,256.9L312.4,257.2L313.4,257.6L314.4,257.9L315.4,258.2L316.4,258.5L317.4,258.8L318.4,259.1L319.4,259.4L320.4,259.6L321.4,259.9L322.4,260.1L323.4,260.4L324.4,260.6L325.4,260.8L326.4,261.0L327.4,261.2L328.4,261.3L329.4,261.5L330.4,261.6L331.4,261.7L332.4,261.8L333.4,261.9L334.4,262.0L335.4,262.1L336.4,262.2L337.4,262.3L338.4,262.3L339.4,262.4L340.4,262.4L341.4,262.5L342.4,262.5L343.4,262.5L344.4,262.6L345.4,262.6L346.4,262.6L347.4,262.7L348.4,262.7L349.4,262.7L350.4,262.7L351.4,262.7L352.4,262.7L353.4,262.7L354.4,262.6L355.4,262.6L356.4,262.6L357.4,262.5L358.4,262.5L359.4,262.5L360.4,262.4L361.4,262.4L362.4,262.3L363.4,262.3L364.4,262.2L365.4,262.2L366.4,262.2L367.4,262.1L368.4,262.1L369.4,262.1L370.4,262.0L371.4,262.0L372.4,262.0L373.4,261.9L374.4,261.9L375.4,261.9L376.4,261.8L377.4,261.8L378.4,261.8L379.4,261.8L380.4,261.7L381.4,261.7L382.4,261.7L383.4,261.6L384.4,261.6L385.4,261.6L386.4,261.6L387.4,261.5L388.4,261.5L389.4,261.5L390.4,261.5L391.4,261.4L392.4,261.4L392.6,261.4L392.6,293.8L392.4,293.8L391.4,293.8L390.4,293.9L389.4,293.9L388.4,293.9L387.4,294.0L386.4,294.0L385.4,294.0L384.4,294.1L383.4,294.1L382.4,294.1L381.4,294.2L380.4,294.2L379.4,294.2L378.4,294.2L377.4,294.3L376.4,294.3L375.4,294.3L374.4,294.4L373.4,294.4L372.4,294.4L371.4,294.4L370.4,294.4L369.4,294.5L368.4,294.5L367.4,294.5L366.4,294.5L365.4,294.6L364.4,294.6L363.4,294.6L362.4,294.6L361.4,294.6L360.4,294.7L359.4,294.7L358.4,294.7L357.4,294.7L356.4,294.7L355.4,294.8L354.4,294.8L353.4,294.8L352.4,294.8L351.4,294.8L350.4,294.8L349.4,294.8L348.4,294.8L347.4,294.8L346.4,294.8L345.4,294.8L344.4,294.8L343.4,294.8L342.4,294.7L341.4,294.7L340.4,294.7L339.4,294.7L338.4,294.6L337.4,294.6L336.4,294.5L335.4,294.4L334.4,294.3L333.4,294.2L332.4,294.1L331.4,293.9L330.4,293.8L329.4,293.7L328.4,293.5L327.4,293.4L326.4,293.2L325.4,293.0L324.4,292.8L323.4,292.6L322.4,292.4L321.4,292.1L320.4,291.9L319.4,291.6L318.4,291.4L317.4,291.1L316.4,290.9L315.4,290.6L314.4,290.3L313.4,290.0L312.4,289.6L311.4,289.3L310.4,289.0L309.4,288.6L308.4,288.3L307.4,287.9L306.4,287.6L305.4,287.3L304.4,286.9L303.4,286.6L302.4,286.3L301.4,285.9L300.4,285.6L299.4,285.3L298.4,284.9L297.4,284.6L296.4,284.2L295.4,283.8L294.4,283.4L293.4,283.0L292.4,282.6L291.4,282.2L290.4,281.8L289.4,281.3L288.4,280.8L287.4,280.4L286.4,279.9L285.4,279.4L284.4,278.9L283.4,278.4L282.4,277.9L281.4,277.5L280.4,277.0L279.4,276.5L278.4,276.0L277.4,275.5L276.4,275.0L275.4,274.5L274.4,274.0L273.4,273.5L272.4,273.0L271.4,272.4L270.4,271.9L269.4,271.4L268.4,270.8L267.4,270.3L266.4,269.7L265.4,269.2L264.4,268.6L263.4,268.1L262.4,267.5L261.4,266.9L260.4,266.4L259.4,265.8L258.4,265.2L257.4,264.6L256.4,264.0L255.4,263.4L254.4,262.7L253.4,262.1L252.4,261.5L251.4,260.8L250.4,260.2L249.4,259.5L248.4,258.8L247.4,258.2L246.4,257.4L245.4,256.7L244.4,256.0L243.4,255.2L242.4,254.4L241.4,253.6L240.4,252.8L239.4,252.0L238.4,251.2L237.4,250.3L236.4,249.5L235.4,248.7L234.4,247.8L233.4,247.0L232.4,246.1L231.4,245.3L230.4,244.4L229.4,243.5L228.4,242.6L227.4,241.7L226.4,240.8L225.4,239.9L224.4,239.0L223.4,238.1L222.4,237.2L221.4,236.2L220.4,235.3L219.4,234.3L218.4,233.4L217.4,232.5L216.4,231.6L215.4,230.8L214.4,229.9L213.4,229.2L212.4,228.4L211.4,227.6L210.4,226.9L209.4,226.2L208.4,225.6L207.4,225.0L206.4,224.5L205.4,224.0L204.4,223.5L203.4,223.2L202.4,222.8L201.4,222.5L200.4,222.3L199.4,222.2L198.4,222.1L197.4,222.0L196.4,222.0L195.4,222.1L194.4,222.4L193.4,222.6L192.4,223.0L191.4,223.5L190.4,224.1L189.4,224.8L188.4,225.5L187.4,226.3L186.4,227.1L185.4,227.8L184.4,228.4L183.4,229.0L182.4,229.6L181.4,230.1L180.4,230.6L179.4,231.0L178.4,231.3L177.4,231.6L176.4,231.9L175.4,232.1L174.4,232.4L173.4,232.6L172.4,232.7L171.4,232.9L170.4,233.0L169.4,233.0L168.4,233.0L167.4,233.0L166.4,233.0L165.4,232.9L164.4,232.9L163.4,232.9L162.4,232.9L161.4,232.8L160.4,232.8L159.4,232.8L158.4,232.8L157.4,232.7L156.4,232.7L155.4,232.7L154.4,232.6L153.4,232.6L152.4,232.6L151.4,232.5L150.4,232.4L149.4,232.4L148.4,232.3L147.4,232.3L146.4,232.2L145.4,232.1L144.4,232.1L143.4,232.0L142.4,231.9L141.4,231.9L140.4,231.8L139.4,231.8L138.4,231.7L137.4,231.6L136.4,231.6L135.4,231.5L134.4,231.5L133.4,231.4L132.4,231.3L131.4,231.3L130.4,231.2L129.4,231.2L128.4,231.1L127.4,231.1L126.4,231.0L125.4,231.0L124.4,230.9L123.4,230.8L122.4,230.8L121.4,230.7L120.4,230.7L119.4,230.6L118.4,230.6L117.4,230.5L116.4,230.4L115.4,230.4L114.4,230.3L113.4,230.2L112.4,230.2L111.4,230.1L110.4,230.0L109.4,229.9L108.4,229.9L107.4,229.8L106.4,229.7L105.4,229.6L104.4,229.5L103.4,229.4L102.4,229.4L101.4,229.3L100.4,229.2L99.4,229.1L98.4,229.0L97.4,228.9L96.4,228.8L95.4,228.7L94.4,228.7L93.4,228.6L92.4,228.5L91.4,228.4L90.4,228.3L89.4,228.2L88.4,228.1L87.4,228.0L86.4,227.9L85.4,227.8L84.4,227.7L83.4,227.6L82.4,227.5L81.4,227.4L80.4,227.2L79.4,227.1L78.4,227.0L77.4,226.9L76.4,226.8L75.4,226.7L74.4,226.6L73.4,226.5L72.4,226.4L71.4,226.3L70.4,226.2L69.4,226.1L68.4,226.0L67.4,225.9L66.4,225.8L65.4,225.7L64.4,225.6L63.4,225.5L62.4,225.4L61.4,225.2L60.4,225.1L59.4,225.0L58.4,224.9L57.4,224.8L56.4,224.7L55.4,224.6L54.4,224.5L53.4,224.4L52.4,224.3L51.4,224.3L50.4,224.2L49.4,224.1L48.4,224.0L47.4,223.9L46.4,223.9L45.4,223.8L44.4,223.7L43.4,223.7L42.4,223.6L41.4,223.5L40.4,223.5L39.4,223.4L38.4,223.4L37.4,223.3L36.4,223.2L35.4,223.2L34.4,223.1L33.4,223.1L32.4,223.0L31.4,223.0L30.4,222.9L29.4,222.9L28.4,222.8L27.4,222.8L26.4,222.8L25.4,222.7L24.4,222.7Z" fill="#ffb3b3" stroke="none"/>
<path d="M24.4,163.6L25.4,163.7L26.4,163.8L27.4,163.9L28.4,164.1L29.4,164.2L30.4,164.3L31.4,164.4L32.4,164.5L33.4,164.7L34.4,164.8L35.4,164.9L36.4,165.0L37.4,165.2L38.4,165.3L39.4,165.4L40.4,165.5L41.4,165.7L42.4,165.8L43.4,165.9L44.4,166.1L45.4,166.2L46.4,166.3L47.4,166.5L48.4,166.6L49.4,166.7L50.4,166.9L51.4,167.0L52.4,167.2L53.4,167.3L54.4,167.4L55.4,167.6L56.4,167.7L57.4,167.9L58.4,168.0L59.4,168.2L60.4,168.3L61.4,168.5L62.4,168.6L63.4,168.8L64.4,168.9L65.4,169.1L66.4,169.2L67.4,169.4L68.4,169.6L69.4,169.7L70.4,169.9L71.4,170.1L72.4,170.2L73.4,170.4L74.4,170.6L75.4,170.8L76.4,171.0L77.4,171.2L78.4,171.4L79.4,171.6L80.4,171.8L81.4,172.0L82.4,172.2L83.4,172.4L84.4,172.6L85.4,172.8L86.4,173.0L87.4,173.2L88.4,173.4L89.4,173.7L90.4,173.9L91.4,174.1L92.4,174.3L93.4,174.5L94.4,174.7L95.4,174.9L96.4,175.2L97.4,175.4L98.4,175.6L99.4,175.8L100.4,176.1L101.4,176.3L102.4,176.5L103.4,176.7L104.4,177.0L105.4,177.2L106.4,177.4L107.4,177.7L108.4,177.9L109.4,178.1L110.4,178.4L111.4,178.6L112.4,178.9L113.4,179.1L114.4,179.3L115.4,179.6L116.4,179.8L117.4,180.0L118.4,180.3L119.4,180.5L120.4,180.7L121.4,181.0L122.4,181.2L123.4,181.5L124.4,181.7L125.4,181.9L126.4,182.2L127.4,182.4L128.4,182.6L129.4,182.9L130.4,183.1L131.4,183.3L132.4,183.5L133.4,183.7L134.4,184.0L135.4,184.2L136.4,184.4L137.4,184.6L138.4,184.8L139.4,185.0L140.4,185.2L141.4,185.3L142.4,185.5L143.4,185.7L144.4,185.9L145.4,186.1L146.4,186.3L147.4,186.5L148.4,186.6L149.4,186.8L150.4,187.0L151.4,187.1L152.4,187.2L153.4,187.3L154.4,187.4L155.4,187.4L156.4,187.5L157.4,187.6L158.4,187.7L159.4,187.7L160.4,187.8L161.4,187.8L162.4,187.9L163.4,187.9L164.4,187.9L165.4,187.9L166.4,187.9L167.4,187.9L168.4,187.8L169.4,187.8L170.4,187.8L171.4,187.7L172.4,187.7L173.4,187.6L174.4,187.5L175.4,187.3L176.4,187.1L177.4,186.9L178.4,186.6L179.4,186.4L180.4,186.0L181.4,185.6L182.4,185.1L183.4,184.6L184.4,183.9L185.4,183.3L186.4,182.5L187.4,181.7L188.4,180.7L189.4,179.8L190.4,178.8L191.4,177.8L192.4,176.9L193.4,176.2L194.4,175.6L195.4,175.1L196.4,174.8L197.4,174.5L198.4,174.3L199.4,174.3L200.4,174.5L201.4,174.9L202.4,175.3L203.4,175.8L204.4,176.3L205.4,177.1L206.4,177.9L207.4,178.8L208.4,179.7L209.4,180.5L210.4,181.4L211.4,182.3L212.4,183.2L213.4,184.2L214.4,185.2L215.4,186.4L216.4,187.5L217.4,188.6L218.4,189.7L219.4,190.8L220.4,191.9L221.4,193.0L222.4,194.1L223.4,195.1L224.4,196.1L225.4,197.0L226.4,198.0L227.4,198.9L228.4,199.9L229.4,200.8L230.4,201.8L231.4,202.8L232.4,203.7L233.4,204.7L234.4,205.6L235.4,206.5L236.4,207.4L237.4,208.3L238.4,209.1L239.4,210.0L240.4,210.8L241.4,211.6L242.4,212.5L243.4,213.3L244.4,214.1L245.4,214.9L246.4,215.7L247.4,216.5L248.4,217.3L249.4,218.1L250.4,218.9L251.4,219.6L252.4,220.4L253.4,221.2L254.4,222.0L255.4,222.7L256.4,223.5L257.4,224.2L258.4,225.0L259.4,225.7L260.4,226.4L261.4,227.1L262.4,227.9L263.4,228.6L264.4,229.3L265.4,230.0L266.4,230.7L267.4,231.3L268.4,232.0L269.4,232.7L270.4,233.3L271.4,233.9L272.4,234.6L273.4,235.2L274.4,235.8L275.4,236.5L276.4,237.1L277.4,237.7L278.4,238.2L279.4,238.8L280.4,239.3L281.4,239.9L282.4,240.3L283.4,240.8L284.4,241.3L285.4,241.7L286.4,242.1L287.4,242.6L288.4,243.0L289.4,243.4L290.4,243.7L291.4,244.1L292.4,244.4L293.4,244.8L294.4,245.1L295.4,245.4L296.4,245.7L297.4,246.0L298.4,246.3L299.4,246.6L300.4,246.9L301.4,247.1L302.4,247.4L303.4,247.6L304.4,247.8L305.4,248.0L306.4,248.2L307.4,248.3L308.4,248.5L309.4,248.7L310.4,248.8L311.4,249.0L312.4,249.1L313.4,249.2L314.4,249.3L315.4,249.4L316.4,249.5L317.4,249.6L318.4,249.7L319.4,249.8L320.4,249.8L321.4,249.9L322.4,250.0L323.4,250.0L324.4,250.0L325.4,250.0L326.4,250.0L327.4,249.9L328.4,249.9L329.4,249.8L330.4,249.7L331.4,249.6L332.4,249.5L333.4,249.3L334.4,249.2L335.4,249.1L336.4,248.9L337.4,248.8L338.4,248.6L339.4,248.5L340.4,248.3L341.4,248.1L342.4,247.9L343.4,247.7L344.4,247.4L345.4,247.1L346.4,246.8L347.4,246.5L348.4,246.2L349.4,245.9L350.4,245.6L351.4,245.3L352.4,244.9L353.4,244.6L354.4,244.3L355.4,243.9L356.4,243.6L357.4,243.2L358.4,242.8L359.4,242.4L360.4,242.1L361.4,241.7L362.4,241.3L363.4,240.9L364.4,240.5L365.4,240.2L366.4,239.8L367.4,239.4L368.4,239.0L369.4,238.6L370.4,238.2L371.4,237.8L372.4,237.4L373.4,237.0L374.4,236.6L375.4,236.2L376.4,235.8L377.4,235.4L378.4,235.0L379.4,234.6L380.4,234.2L381.4,233.8L382.4,233.4L383.4,233.0L384.4,232.6L385.4,232.2L386.4,231.9L387.4,231.5L388.4,231.1L389.4,230.7L390.4,230.3L391.4,229.9L392.4,229.5L393.4,229.2L394.4,228.8L395.4,228.4L396.4,228.0L397.4,227.7L398.4,227.3L399.4,226.9L400.4,226.5L400.5,226.5" fill="none" stroke="#000000" stroke-width="2.15" stroke-linecap="butt" stroke-linejoin="round" stroke-dasharray="12.7 3.9 2.0 3.9"/>
<path d="M24.4,207.0L25.4,207.0L26.4,207.0L27.4,207.0L28.4,207.0L29.4,207.0L30.4,207.0L31.4,207.0L32.4,207.0L33.4,207.0L34.4,207.0L35.4,207.1L36.4,207.1L37.4,207.1L38.4,207.1L39.4,207.1L40.4,207.1L41.4,207.1L42.4,207.1L43.4,207.1L44.4,207.2L45.4,207.2L46.4,207.2L47.4,207.2L48.4,207.2L49.4,207.3L50.4,207.3L51.4,207.4L52.4,207.4L53.4,207.5L54.4,207.6L55.4,207.6L56.4,207.7L57.4,207.8L58.4,207.9L59.4,208.0L60.4,208.1L61.4,208.2L62.4,208.3L63.4,208.4L64.4,208.5L65.4,208.6L66.4,208.7L67.4,208.8L68.4,208.9L69.4,209.0L70.4,209.1L71.4,209.2L72.4,209.3L73.4,209.4L74.4,209.5L75.4,209.6L76.4,209.7L77.4,209.8L78.4,209.9L79.4,210.1L80.4,210.2L81.4,210.3L82.4,210.4L83.4,210.5L84.4,210.6L85.4,210.8L86.4,210.9L87.4,211.0L88.4,211.1L89.4,211.2L90.4,211.3L91.4,211.4L92.4,211.6L93.4,211.7L94.4,211.8L95.4,211.9L96.4,212.0L97.4,212.1L98.4,212.2L99.4,212.2L100.4,212.3L101.4,212.4L102.4,212.5L103.4,212.6L104.4,212.7L105.4,212.8L106.4,212.9L107.4,213.0L108.4,213.1L109.4,213.2L110.4,213.3L111.4,213.4L112.4,213.5L113.4,213.6L114.4,213.7L115.4,213.8L116.4,213.9L117.4,214.0L118.4,214.1L119.4,214.3L120.4,214.4L121.4,214.6L122.4,214.7L123.4,214.9L124.4,215.0L125.4,215.2L126.4,215.3L127.4,215.5L128.4,215.6L129.4,215.7L130.4,215.8L131.4,216.0L132.4,216.1L133.4,216.2L134.4,216.3L135.4,216.4L136.4,216.5L137.4,216.6L138.4,216.7L139.4,216.7L140.4,216.8L141.4,216.9L142.4,216.9L143.4,217.0L144.4,217.1L145.4,217.1L146.4,217.2L147.4,217.2L148.4,217.3L149.4,217.3L150.4,217.3L151.4,217.4L152.4,217.4L153.4,217.4L154.4,217.4L155.4,217.4L156.4,217.4L157.4,217.4L158.4,217.4L159.4,217.4L160.4,217.4L161.4,217.4L162.4,217.3L163.4,217.2L164.4,217.0L165.4,216.8L166.4,216.7L167.4,216.5L168.4,216.3L169.4,216.1L170.4,215.9L171.4,215.6L172.4,215.4L173.4,215.1L174.4,214.8L175.4,214.5L176.4,214.2L177.4,213.8L178.4,213.4L179.4,213.1L180.4,212.6L181.4,212.2L182.4,211.7L183.4,211.1L184.4,210.5L185.4,209.8L186.4,208.8L187.4,207.6L188.4,206.4L189.4,205.4L190.4,204.3L191.4,203.3L192.4,202.8L193.4,202.3L194.4,201.9L195.4,201.7L196.4,201.5L197.4,201.5L198.4,201.6L199.4,201.8L200.4,202.0L201.4,202.2L202.4,202.5L203.4,202.9L204.4,203.3L205.4,203.9L206.4,204.7L207.4,205.5L208.4,206.3L209.4,207.1L210.4,207.9L211.4,208.7L212.4,209.6L213.4,210.5L214.4,211.4L215.4,212.4L216.4,213.4L217.4,214.3L218.4,215.3L219.4,216.2L220.4,217.1L221.4,218.0L222.4,218.8L223.4,219.8L224.4,220.7L225.4,221.6L226.4,222.5L227.4,223.4L228.4,224.3L229.4,225.2L230.4,226.2L231.4,227.0L232.4,227.9L233.4,228.8L234.4,229.6L235.4,230.4L236.4,231.2L237.4,232.0L238.4,232.8L239.4,233.7L240.4,234.6L241.4,235.5L242.4,236.4L243.4,237.3L244.4,238.1L245.4,239.0L246.4,239.8L247.4,240.6L248.4,241.4L249.4,242.1L250.9,243.2L251.9,243.9L252.9,244.6L253.9,245.3L254.9,245.9L255.9,246.6L256.9,247.2L257.9,247.8L258.9,248.4L259.9,248.9L260.9,249.5L261.9,250.1L262.9,250.6L263.9,251.1L264.9,251.6L265.9,252.2L266.9,252.6L267.9,253.1L268.9,253.6L269.9,254.1L270.9,254.5L271.9,255.0L272.9,255.4L273.9,255.8L274.9,256.2L275.9,256.6L276.9,257.0L277.9,257.4L278.9,257.8L279.9,258.2L280.9,258.6L281.9,258.9L282.9,259.3L283.9,259.7L284.9,260.0L285.9,260.4L286.9,260.7L287.9,261.1L288.9,261.4L289.9,261.8L290.9,262.1L291.9,262.4L292.9,262.7L293.9,263.0L294.9,263.3L295.9,263.6L296.9,263.9L297.9,264.1L298.9,264.4L299.9,264.6L300.9,264.9L301.9,265.1L302.9,265.4L303.9,265.6L304.9,265.9L305.9,266.1L306.9,266.3L307.9,266.6L308.9,266.8L309.9,267.0L310.9,267.2L311.9,267.5L312.9,267.7L313.9,267.9L314.9,268.1L315.9,268.3L316.9,268.5L317.9,268.7L318.9,268.9L319.9,269.1L320.9,269.3L321.9,269.5L322.9,269.7L323.9,269.9L324.9,270.1L325.9,270.2L326.9,270.4L327.9,270.6L328.9,270.8L329.9,271.0L330.9,271.1L331.9,271.3L332.9,271.5L333.9,271.6L334.9,271.8L335.9,272.0L336.9,272.2L337.9,272.3L338.9,272.5L339.9,272.7L340.9,272.9L341.9,273.0L342.9,273.2L343.9,273.3L344.9,273.5L345.9,273.6L346.9,273.8L347.9,273.9L348.9,274.0L349.9,274.2L350.9,274.3L351.9,274.4L352.9,274.5L353.9,274.6L354.9,274.7L355.9,274.8L356.9,274.9L357.9,275.0L358.9,275.1L359.9,275.2L360.9,275.3L361.9,275.4L362.9,275.4L363.9,275.5L364.9,275.6L365.9,275.7L366.9,275.7L367.9,275.8L368.9,275.9L369.9,275.9L370.9,276.0L371.9,276.0L372.9,276.1L373.9,276.1L374.9,276.2L375.9,276.2L376.9,276.3L377.9,276.3L378.9,276.4L379.9,276.4L380.9,276.5L381.9,276.5L382.9,276.5L383.9,276.6L384.9,276.6L385.9,276.6L386.9,276.7L387.9,276.7L388.9,276.7L389.9,276.7L390.9,276.8L391.9,276.8L392.6,276.8" fill="none" stroke="#ff0000" stroke-width="1.75" stroke-linecap="butt" stroke-linejoin="round" stroke-dasharray="13 12" stroke-dashoffset="4.68"/>
<path d="M24.4,207.0L25.4,207.0L26.4,207.0L27.4,207.0L28.4,207.0L29.4,207.0L30.4,207.0L31.4,207.0L32.4,207.0L33.4,207.0L34.4,207.0L35.4,207.1L36.4,207.1L37.4,207.1L38.4,207.1L39.4,207.1L40.4,207.1L41.4,207.1L42.4,207.1L43.4,207.1L44.4,207.2L45.4,207.2L46.4,207.2L47.4,207.2L48.4,207.2L49.4,207.3L50.4,207.3L51.4,207.4L52.4,207.4L53.4,207.5L54.4,207.6L55.4,207.6L56.4,207.7L57.4,207.8L58.4,207.9L59.4,208.0L60.4,208.1L61.4,208.2L62.4,208.3L63.4,208.4L64.4,208.5L65.4,208.6L66.4,208.7L67.4,208.8L68.4,208.9L69.4,209.0L70.4,209.1L71.4,209.2L72.4,209.3L73.4,209.4L74.4,209.5L75.4,209.6L76.4,209.7L77.4,209.8L78.4,209.9L79.4,210.1L80.4,210.2L81.4,210.3L82.4,210.4L83.4,210.5L84.4,210.6L85.4,210.8L86.4,210.9L87.4,211.0L88.4,211.1L89.4,211.2L90.4,211.3L91.4,211.4L92.4,211.6L93.4,211.7L94.4,211.8L95.4,211.9L96.4,212.0L97.4,212.1L98.4,212.2L99.4,212.2L100.4,212.3L101.4,212.4L102.4,212.5L103.4,212.6L104.4,212.7L105.4,212.8L106.4,212.9L107.4,213.0L108.4,213.1L109.4,213.2L110.4,213.3L111.4,213.4L112.4,213.5L113.4,213.6L114.4,213.7L115.4,213.8L116.4,213.9L117.4,214.0L118.4,214.1L119.4,214.3L120.4,214.4L121.4,214.6L122.4,214.7L123.4,214.9L124.4,215.0L125.4,215.2L126.4,215.3L127.4,215.5L128.4,215.6L129.4,215.7L130.4,215.8L131.4,216.0L132.4,216.1L133.4,216.2L134.4,216.3L135.4,216.4L136.4,216.5L137.4,216.6L138.4,216.7L139.4,216.7L140.4,216.8L141.4,216.9L142.4,216.9L143.4,217.0L144.4,217.1L145.4,217.1L146.4,217.2L147.4,217.2L148.4,217.3L149.4,217.3L150.4,217.3L151.4,217.4L152.4,217.4L153.4,217.4L154.4,217.4L155.4,217.4L156.4,217.4L157.4,217.4L158.4,217.4L159.4,217.4L160.4,217.4L161.4,217.4L162.4,217.3L163.4,217.2L164.4,217.0L165.4,216.8L166.4,216.7L167.4,216.5L168.4,216.3L169.4,216.1L170.4,215.9L171.4,215.6L172.4,215.4L173.4,215.1L174.4,214.8L175.4,214.5L176.4,214.2L177.4,213.8L178.4,213.4L179.4,213.1L180.4,212.6L181.4,212.2L182.4,211.7L183.4,211.1L184.4,210.5L185.4,209.8L186.4,208.8L187.4,207.6L188.4,206.4L189.4,205.4L190.4,204.3L191.4,203.3L192.4,202.8L193.4,202.3L194.4,201.9L195.4,201.7L196.4,201.5L197.4,201.5L198.4,201.6L199.4,201.8L200.4,202.0L201.4,202.2L202.4,202.5L203.4,202.9L204.4,203.3L205.4,203.9L206.4,204.7L207.4,205.5L208.4,206.3L209.4,207.1L210.4,207.9L211.4,208.7L212.4,209.6L213.4,210.5L214.4,211.4L215.4,212.4L216.4,213.4L217.4,214.3L218.4,215.3L219.4,216.2L220.4,217.1L221.4,218.0L222.4,218.8L223.4,219.8L224.4,220.7L225.4,221.6L226.4,222.5L227.4,223.4L228.4,224.3L229.4,225.2L230.4,226.2L231.4,227.0L232.4,227.9L233.4,228.8L234.4,229.6L235.4,230.4L236.4,231.2L237.4,232.0L238.4,232.8L239.4,233.7L240.4,234.6L241.4,235.5L242.4,236.4L243.4,237.3L244.4,238.1L245.4,239.0L246.4,239.8L247.4,240.6L248.4,241.4L249.4,242.1L250.4,242.9L251.4,243.6L252.4,244.3L253.4,245.0L254.4,245.7L255.4,246.4L256.4,247.1L257.4,247.7L258.4,248.4L259.4,249.0L260.4,249.6L261.4,250.3L262.4,250.9L263.4,251.5L264.4,252.0L265.4,252.6L266.4,253.2L267.4,253.8L268.4,254.3L269.4,254.9L270.4,255.5L271.4,256.1L272.4,256.7L273.4,257.3L274.4,257.8L275.4,258.4L276.4,259.0L277.4,259.6L278.4,260.1L279.4,260.7L280.4,261.2L281.4,261.8L282.4,262.2L283.4,262.7L284.4,263.2L285.4,263.6L286.4,264.1L287.4,264.5L288.4,264.9L289.4,265.4L290.4,265.8L291.4,266.2L292.4,266.6L293.4,267.0L294.4,267.5L295.4,267.9L296.4,268.3L297.4,268.7L298.4,269.1L299.4,269.5L300.4,269.9L301.4,270.3L302.4,270.7L303.4,271.1L304.4,271.5L305.4,271.9L306.4,272.2L307.4,272.6L308.4,273.0L309.4,273.4L310.4,273.8L311.4,274.2L312.4,274.6L313.4,274.9L314.4,275.3L315.4,275.6L316.4,275.9L317.4,276.1L318.4,276.4L319.4,276.6L320.4,276.8L321.4,277.1L322.4,277.3L323.4,277.5L324.4,277.7L325.4,277.8L326.4,278.0L327.4,278.1L328.4,278.2L329.4,278.3L330.4,278.4L331.4,278.5L332.4,278.6L333.4,278.6L334.4,278.7L335.4,278.8L336.4,278.8L337.4,278.9L338.4,278.9L339.4,278.9L340.4,278.9L341.4,278.9L342.4,278.9L343.4,278.9L344.4,278.8L345.4,278.8L346.4,278.8L347.4,278.8L348.4,278.7L349.4,278.7L350.4,278.7L351.4,278.7L352.4,278.6L353.4,278.6L354.4,278.6L355.4,278.5L356.4,278.5L357.4,278.4L358.4,278.4L359.4,278.4L360.4,278.3L361.4,278.3L362.4,278.2L363.4,278.2L364.4,278.1L365.4,278.1L366.4,278.1L367.4,278.0L368.4,278.0L369.4,277.9L370.4,277.9L371.4,277.9L372.4,277.8L373.4,277.8L374.4,277.8L375.4,277.7L376.4,277.7L377.4,277.7L378.4,277.6L379.4,277.6L380.4,277.6L381.4,277.5L382.4,277.5L383.4,277.5L384.4,277.4L385.4,277.4L386.4,277.4L387.4,277.4L388.4,277.3L389.4,277.3L390.4,277.3L391.4,277.2L392.4,277.2L392.6,277.2" fill="none" stroke="#ff0000" stroke-width="1.75" stroke-linecap="butt" stroke-linejoin="round"/>
</g>
<g id="br">
<path d="M438.5,228.5L439.5,228.3L440.5,228.1L441.5,227.9L442.5,227.7L443.5,227.5L444.5,227.3L445.5,227.1L446.5,226.9L447.5,226.7L448.5,226.4L449.5,226.2L450.5,226.0L451.5,225.8L452.5,225.6L453.5,225.3L454.5,225.1L455.5,224.9L456.5,224.6L457.5,224.4L458.5,224.1L459.5,223.9L460.5,223.6L461.5,223.4L462.5,223.1L463.5,222.9L464.5,222.6L465.5,222.3L466.5,222.1L467.5,221.8L468.5,221.5L469.5,221.3L470.5,221.0L471.5,220.7L472.5,220.5L473.5,220.2L474.5,219.9L475.5,219.7L476.5,219.4L477.5,219.1L478.5,218.8L479.5,218.6L480.5,218.3L481.5,218.0L482.5,217.8L483.5,217.5L484.5,217.3L485.5,217.0L486.5,216.7L487.5,216.5L488.5,216.2L489.5,215.9L490.5,215.6L491.5,215.4L492.5,215.1L493.5,214.8L494.5,214.6L495.5,214.3L496.5,214.0L497.5,213.8L498.5,213.5L499.5,213.2L500.5,212.9L501.5,212.7L502.5,212.4L503.5,212.1L504.5,211.9L505.5,211.6L506.5,211.3L507.5,211.0L508.5,210.8L509.5,210.5L510.5,210.2L511.5,209.9L512.5,209.7L513.5,209.4L514.5,209.1L515.5,208.8L516.5,208.5L517.5,208.3L518.5,208.0L519.5,207.7L520.5,207.4L521.5,207.2L522.5,206.9L523.5,206.6L524.5,206.3L525.5,206.0L526.5,205.7L527.5,205.4L528.5,205.1L529.5,204.9L530.5,204.6L531.5,204.3L532.5,204.0L533.5,203.7L534.5,203.4L535.5,203.1L536.5,202.8L537.5,202.5L538.5,202.2L539.5,201.9L540.5,201.6L541.5,201.3L542.5,201.0L543.5,200.7L544.5,200.4L545.5,200.1L546.5,199.8L547.5,199.5L548.5,199.2L549.5,198.8L550.5,198.5L551.5,198.2L552.5,197.9L553.5,197.6L554.5,197.2L555.5,196.9L556.5,196.6L557.5,196.2L558.5,195.9L559.5,195.5L560.5,195.2L561.5,194.8L562.5,194.4L563.5,194.1L564.5,193.7L565.5,193.4L566.5,193.0L567.5,192.7L568.5,192.3L569.5,192.0L570.5,191.6L571.5,191.3L572.5,190.9L573.5,190.6L574.5,190.2L575.5,189.9L576.5,189.5L577.5,189.2L578.5,188.8L579.5,188.5L580.5,188.2L581.5,187.8L582.5,187.5L583.5,187.2L584.5,186.8L585.5,186.5L586.5,186.2L587.5,185.9L588.5,185.5L589.5,185.2L590.5,184.9L591.5,184.6L592.5,184.3L593.5,184.0L594.5,183.7L595.5,183.4L596.5,183.1L597.5,182.8L598.5,182.4L599.5,182.1L600.5,181.9L601.5,181.6L602.5,181.3L603.5,181.0L604.5,180.7L605.5,180.4L606.5,180.1L607.5,179.8L608.5,179.6L609.5,179.3L610.5,179.0L611.5,178.7L612.5,178.5L613.5,178.2L614.5,177.9L615.5,177.7L616.5,177.4L617.5,177.1L618.5,176.9L619.5,176.6L620.5,176.3L621.5,176.1L622.5,175.8L623.5,175.6L624.5,175.3L625.5,175.1L626.5,174.8L627.5,174.6L628.5,174.4L629.5,174.1L630.5,173.9L631.5,173.7L632.5,173.5L633.5,173.2L634.5,173.0L635.5,172.8L636.5,172.6L637.5,172.4L638.5,172.2L639.5,172.0L640.5,171.8L641.5,171.7L642.5,171.5L643.5,171.3L644.5,171.1L645.5,170.9L646.5,170.7L647.5,170.6L648.5,170.4L649.5,170.2L650.5,170.0L651.5,169.9L652.5,169.7L653.5,169.6L654.5,169.4L655.5,169.3L656.5,169.1L657.5,169.0L658.5,168.9L659.5,168.7L660.5,168.6L661.5,168.5L662.5,168.4L663.5,168.2L664.5,168.1L665.5,168.0L666.5,167.9L667.5,167.8L668.5,167.7L669.5,167.6L670.5,167.5L671.5,167.4L672.5,167.3L673.5,167.2L674.5,167.1L675.5,167.0L676.5,166.9L677.5,166.8L678.5,166.7L679.5,166.6L680.5,166.5L681.5,166.4L682.5,166.4L683.5,166.3L684.5,166.2L685.5,166.1L686.5,166.1L687.5,166.0L688.5,165.9L689.5,165.9L690.5,165.8L691.5,165.7L692.5,165.7L693.5,165.6L694.5,165.5L695.5,165.5L696.5,165.4L697.5,165.4L698.5,165.3L699.5,165.2L700.5,165.2L701.5,165.1L702.5,165.0L703.5,165.0L704.5,164.9L705.5,164.8L706.5,164.8L707.5,164.7L708.5,164.6L709.5,164.6L710.5,164.5L711.5,164.4L712.5,164.4L713.5,164.3L714.5,164.2L715.5,164.2L716.5,164.1L717.5,164.0L718.5,163.9L719.5,163.9L720.5,163.8L721.5,163.7L722.5,163.6L723.5,163.5L724.5,163.5L725.5,163.4L726.5,163.3L727.5,163.2L728.5,163.1L729.5,163.0L730.5,163.0L731.5,162.9L732.5,162.8L733.5,162.7L734.5,162.7L735.5,162.6L736.5,162.5L737.5,162.4L738.5,162.4L739.5,162.3L740.5,162.3L741.5,162.2L742.5,162.1L743.5,162.1L744.5,162.0L745.5,162.0L746.5,161.9L747.5,161.9L748.5,161.8L749.5,161.8L750.5,161.7L751.5,161.7L752.5,161.6L753.5,161.6L754.5,161.5L755.5,161.5L756.5,161.4L757.5,161.4L758.5,161.3L759.5,161.3L760.5,161.2L761.5,161.2L762.5,161.1L763.5,161.1L764.5,161.0L765.5,161.0L766.5,160.9L767.5,160.9L768.5,160.8L769.5,160.8L770.5,160.7L771.5,160.7L772.5,160.6L773.5,160.6L774.5,160.5L775.5,160.5L776.5,160.4L777.5,160.4L778.5,160.3L779.5,160.3L780.5,160.2L781.5,160.2L782.5,160.1L783.5,160.1L784.5,160.0L785.5,160.0L786.5,160.0L787.5,159.9L788.5,159.9L789.5,159.8L790.5,159.8L791.5,159.7L792.5,159.7L793.5,159.6L794.5,159.6L795.5,159.5L796.5,159.5L797.5,159.4L798.5,159.4L799.5,159.3L800.5,159.3L801.5,159.3L802.5,159.2L803.5,159.2L804.5,159.1L805.5,159.1L806.5,159.0L807.1,159.0L807.1,197.6L806.5,197.6L805.5,197.7L804.5,197.7L803.5,197.8L802.5,197.8L801.5,197.9L800.5,197.9L799.5,197.9L798.5,198.0L797.5,198.0L796.5,198.1L795.5,198.1L794.5,198.2L793.5,198.2L792.5,198.3L791.5,198.3L790.5,198.4L789.5,198.4L788.5,198.5L787.5,198.5L786.5,198.6L785.5,198.6L784.5,198.6L783.5,198.7L782.5,198.7L781.5,198.8L780.5,198.8L779.5,198.9L778.5,198.9L777.5,199.0L776.5,199.0L775.5,199.1L774.5,199.1L773.5,199.2L772.5,199.2L771.5,199.3L770.5,199.3L769.5,199.4L768.5,199.4L767.5,199.5L766.5,199.5L765.5,199.6L764.5,199.6L763.5,199.7L762.5,199.7L761.5,199.8L760.5,199.8L759.5,199.9L758.5,199.9L757.5,200.0L756.5,200.0L755.5,200.1L754.5,200.1L753.5,200.2L752.5,200.2L751.5,200.3L750.5,200.3L749.5,200.4L748.5,200.4L747.5,200.5L746.5,200.5L745.5,200.6L744.5,200.6L743.5,200.7L742.5,200.7L741.5,200.8L740.5,200.9L739.5,200.9L738.5,201.0L737.5,201.0L736.5,201.1L735.5,201.2L734.5,201.3L733.5,201.3L732.5,201.4L731.5,201.5L730.5,201.6L729.5,201.6L728.5,201.7L727.5,201.8L726.5,201.9L725.5,202.0L724.5,202.1L723.5,202.1L722.5,202.2L721.5,202.3L720.5,202.4L719.5,202.5L718.5,202.5L717.5,202.6L716.5,202.7L715.5,202.8L714.5,202.8L713.5,202.9L712.5,203.0L711.5,203.0L710.5,203.1L709.5,203.2L708.5,203.2L707.5,203.3L706.5,203.4L705.5,203.4L704.5,203.5L703.5,203.6L702.5,203.6L701.5,203.7L700.5,203.8L699.5,203.8L698.5,203.9L697.5,204.0L696.5,204.0L695.5,204.1L694.5,204.1L693.5,204.2L692.5,204.3L691.5,204.3L690.5,204.4L689.5,204.5L688.5,204.5L687.5,204.6L686.5,204.7L685.5,204.7L684.5,204.8L683.5,204.9L682.5,205.0L681.5,205.0L680.5,205.1L679.5,205.2L678.5,205.3L677.5,205.4L676.5,205.5L675.5,205.6L674.5,205.7L673.5,205.8L672.5,205.9L671.5,206.0L670.5,206.1L669.5,206.2L668.5,206.3L667.5,206.4L666.5,206.5L665.5,206.6L664.5,206.7L663.5,206.8L662.5,207.0L661.5,207.1L660.5,207.2L659.5,207.3L658.5,207.5L657.5,207.6L656.5,207.7L655.5,207.9L654.5,208.0L653.5,208.2L652.5,208.3L651.5,208.5L650.5,208.6L649.5,208.8L648.5,209.0L647.5,209.2L646.5,209.3L645.5,209.5L644.5,209.7L643.5,209.9L642.5,210.1L641.5,210.3L640.5,210.4L639.5,210.6L638.5,210.8L637.5,211.0L636.5,211.2L635.5,211.4L634.5,211.6L633.5,211.8L632.5,212.1L631.5,212.3L630.5,212.5L629.5,212.7L628.5,213.0L627.5,213.2L626.5,213.4L625.5,213.7L624.5,213.9L623.5,214.2L622.5,214.4L621.5,214.7L620.5,214.9L619.5,215.2L618.5,215.5L617.5,215.7L616.5,216.0L615.5,216.3L614.5,216.5L613.5,216.8L612.5,217.1L611.5,217.3L610.5,217.6L609.5,217.9L608.5,218.2L607.5,218.4L606.5,218.7L605.5,219.0L604.5,219.3L603.5,219.6L602.5,219.9L601.5,220.2L600.5,220.5L599.5,220.7L598.5,221.0L597.5,221.4L596.5,221.7L595.5,222.0L594.5,222.3L593.5,222.6L592.5,222.9L591.5,223.2L590.5,223.5L589.5,223.8L588.5,224.1L587.5,224.5L586.5,224.8L585.5,225.1L584.5,225.4L583.5,225.8L582.5,226.1L581.5,226.4L580.5,226.8L579.5,227.1L578.5,227.4L577.5,227.8L576.5,228.1L575.5,228.5L574.5,228.8L573.5,229.2L572.5,229.5L571.5,229.9L570.5,230.2L569.5,230.6L568.5,230.9L567.5,231.3L566.5,231.6L565.5,232.0L564.5,232.3L563.5,232.7L562.5,233.0L561.5,233.4L560.5,233.8L559.5,234.1L558.5,234.5L557.5,234.8L556.5,235.2L555.5,235.5L554.5,235.8L553.5,236.2L552.5,236.5L551.5,236.8L550.5,237.1L549.5,237.4L548.5,237.8L547.5,238.1L546.5,238.4L545.5,238.7L544.5,239.0L543.5,239.3L542.5,239.6L541.5,239.9L540.5,240.2L539.5,240.5L538.5,240.8L537.5,241.1L536.5,241.4L535.5,241.7L534.5,242.0L533.5,242.3L532.5,242.6L531.5,242.9L530.5,243.2L529.5,243.5L528.5,243.7L527.5,244.0L526.5,244.3L525.5,244.6L524.5,244.9L523.5,245.2L522.5,245.5L521.5,245.8L520.5,246.0L519.5,246.3L518.5,246.6L517.5,246.9L516.5,247.1L515.5,247.4L514.5,247.7L513.5,248.0L512.5,248.3L511.5,248.5L510.5,248.8L509.5,249.1L508.5,249.4L507.5,249.6L506.5,249.9L505.5,250.2L504.5,250.5L503.5,250.7L502.5,251.0L501.5,251.3L500.5,251.5L499.5,251.8L498.5,252.1L497.5,252.4L496.5,252.6L495.5,252.9L494.5,253.2L493.5,253.4L492.5,253.7L491.5,254.0L490.5,254.2L489.5,254.5L488.5,254.8L487.5,255.1L486.5,255.3L485.5,255.6L484.5,255.9L483.5,256.1L482.5,256.4L481.5,256.6L480.5,256.9L479.5,257.2L478.5,257.4L477.5,257.7L476.5,258.0L475.5,258.3L474.5,258.5L473.5,258.8L472.5,259.1L471.5,259.3L470.5,259.6L469.5,259.9L468.5,260.1L467.5,260.4L466.5,260.7L465.5,260.9L464.5,261.2L463.5,261.5L462.5,261.7L461.5,262.0L460.5,262.2L459.5,262.5L458.5,262.7L457.5,263.0L456.5,263.2L455.5,263.5L454.5,263.7L453.5,263.9L452.5,264.2L451.5,264.4L450.5,264.6L449.5,264.8L448.5,265.0L447.5,265.3L446.5,265.5L445.5,265.7L444.5,265.9L443.5,266.1L442.5,266.3L441.5,266.5L440.5,266.7L439.5,266.9L438.5,267.1Z" fill="#ffb3b3" stroke="none"/>
<path d="M438.5,295.4L439.5,295.2L440.5,294.9L441.5,294.7L442.5,294.4L443.5,294.2L444.5,293.9L445.5,293.7L446.5,293.4L447.5,293.1L448.5,292.8L449.5,292.6L450.5,292.3L451.5,292.0L452.5,291.7L453.5,291.4L454.5,291.1L455.5,290.8L456.5,290.5L457.5,290.2L458.5,289.9L459.5,289.6L460.5,289.2L461.5,288.9L462.5,288.6L463.5,288.3L464.5,287.9L465.5,287.6L466.5,287.2L467.5,286.9L468.5,286.5L469.5,286.2L470.5,285.8L471.5,285.5L472.5,285.1L473.5,284.7L474.5,284.3L475.5,284.0L476.5,283.6L477.5,283.2L478.5,282.8L479.5,282.4L480.5,282.0L481.5,281.6L482.5,281.2L483.5,280.8L484.5,280.4L485.5,280.0L486.5,279.5L487.5,279.1L488.5,278.7L489.5,278.2L490.5,277.8L491.5,277.3L492.5,276.9L493.5,276.4L494.5,276.0L495.5,275.5L496.5,275.0L497.5,274.6L498.5,274.1L499.5,273.6L500.5,273.1L501.5,272.6L502.5,272.2L503.5,271.7L504.5,271.2L505.5,270.7L506.5,270.2L507.5,269.7L508.5,269.2L509.5,268.7L510.5,268.2L511.5,267.7L512.5,267.1L513.5,266.6L514.5,266.1L515.5,265.6L516.5,265.0L517.5,264.5L518.5,264.0L519.5,263.4L520.5,262.9L521.5,262.3L522.5,261.8L523.5,261.2L524.5,260.7L525.5,260.2L526.5,259.6L527.5,259.1L528.5,258.5L529.5,258.0L530.5,257.5L531.5,256.9L532.5,256.4L533.5,255.9L534.5,255.3L535.5,254.8L536.5,254.2L537.5,253.7L538.5,253.1L539.5,252.6L540.5,252.1L541.5,251.5L542.5,251.0L543.5,250.4L544.5,249.9L545.5,249.3L546.5,248.8L547.5,248.2L548.5,247.7L549.5,247.2L550.5,246.6L551.5,246.1L552.5,245.5L553.5,245.0L554.5,244.5L555.5,243.9L556.5,243.4L557.5,242.9L558.5,242.3L559.5,241.8L560.5,241.3L561.5,240.8L562.5,240.3L563.5,239.7L564.5,239.2L565.5,238.7L566.5,238.1L567.5,237.6L568.5,237.0L569.5,236.5L570.5,235.9L571.5,235.3L572.5,234.7L573.5,234.1L574.5,233.5L575.5,232.9L576.5,232.3L577.5,231.6L578.5,231.0L579.5,230.4L580.5,229.8L581.5,229.2L582.5,228.6L583.5,228.0L584.5,227.4L585.5,226.9L586.5,226.4L587.5,225.9L588.5,225.4L589.5,225.0L590.5,224.5L591.5,224.1L592.5,223.6L593.5,223.2L594.5,222.7L595.5,222.1L596.5,221.6L597.5,220.9L598.5,220.2L599.5,219.4L600.5,218.6L601.5,217.7L602.5,216.8L603.5,215.9L604.5,215.0L605.5,214.2L606.5,213.4L607.5,212.7L608.5,211.9L609.0,211.5L610.0,210.7L611.0,210.0L612.0,209.4L613.0,209.0L614.0,208.6L615.0,208.2L616.0,207.8L617.0,207.5L618.0,207.2L619.0,207.0L620.0,206.8L621.0,206.6L622.0,206.4L623.0,206.3L624.0,206.1L625.0,206.0L626.0,205.9L627.0,205.8L628.0,205.7L629.0,205.6L630.0,205.6L631.0,205.6L632.0,205.5L633.0,205.5L634.0,205.5L635.0,205.5L636.0,205.4L637.0,205.4L638.0,205.4L639.0,205.4L640.0,205.4L641.0,205.4L642.0,205.4L643.0,205.3L644.0,205.3L645.0,205.3L646.0,205.3L647.0,205.3L648.0,205.3L649.0,205.3L650.0,205.3L651.0,205.3L652.0,205.3L653.0,205.2L654.0,205.2L655.0,205.2L656.0,205.2L657.0,205.2L658.0,205.2L659.0,205.2L660.0,205.2L661.0,205.2L662.0,205.2L663.0,205.2L664.0,205.2L665.0,205.2L666.0,205.2L667.0,205.1L668.0,205.1L669.0,205.1L670.0,205.1L671.0,205.1L672.0,205.1L673.0,205.1L674.0,205.1L675.0,205.1L676.0,205.1L677.0,205.0L678.0,205.0L679.0,205.0L680.0,205.0L681.0,205.0L682.0,205.0L683.0,204.9L684.0,204.9L685.0,204.9L686.0,204.9L687.0,204.9L688.0,204.8L689.0,204.8L690.0,204.8L691.0,204.8L692.0,204.7L693.0,204.7L694.0,204.7L695.0,204.7L696.0,204.6L697.0,204.6L698.0,204.6L699.0,204.5L700.0,204.5L701.0,204.5L702.0,204.4L703.0,204.4L704.0,204.3L705.0,204.2L706.0,204.2L707.0,204.1L708.0,204.0L709.0,204.0L710.0,203.9L711.0,203.8L712.0,203.8L713.0,203.7L714.0,203.6L715.0,203.6L716.0,203.6L717.0,203.5L718.0,203.5L719.0,203.4L720.0,203.4L721.0,203.3L722.0,203.3L723.0,203.2L724.0,203.2L725.0,203.2L726.0,203.1L727.0,203.1L728.0,203.0L729.0,203.0L730.0,203.0L731.0,202.9L732.0,202.9L733.0,202.9L734.0,202.9L735.0,202.8L736.0,202.8L737.0,202.8L738.0,202.8L739.0,202.8L740.0,202.8L741.0,202.8L742.0,202.8L743.0,202.8L744.0,202.8L745.0,202.8L746.0,202.8L747.0,202.8L748.0,202.8L749.0,202.8L750.0,202.8L751.0,202.8L752.0,202.8L753.0,202.8L754.0,202.8L755.0,202.8L756.0,202.8L757.0,202.8L758.0,202.8L759.0,202.8L760.0,202.8L761.0,202.8L762.0,202.8L763.0,202.8L764.0,202.8L765.0,202.8L766.0,202.8L767.0,202.8L768.0,202.9L769.0,202.9L770.0,203.0L771.0,203.1L772.0,203.1L773.0,203.2L774.0,203.3L775.0,203.4L776.0,203.5L777.0,203.6L778.0,203.7L779.0,203.8L780.0,203.9L781.0,204.0L782.0,204.1L783.0,204.3L784.0,204.4L785.0,204.6L786.0,204.7L787.0,204.9L788.0,205.0L789.0,205.2L790.0,205.3L791.0,205.5L792.0,205.7L793.0,205.9L794.0,206.0L795.0,206.2L796.0,206.4L797.0,206.6L798.0,206.8L799.0,207.1L800.0,207.3L801.0,207.5L802.0,207.8L803.0,208.0L804.0,208.3L805.0,208.6L806.0,208.9L807.0,209.2L808.0,209.5L809.0,209.8L810.0,210.2L811.0,210.5L812.0,210.9L813.0,211.3L814.0,211.7L814.6,211.9" fill="none" stroke="#000000" stroke-width="2.15" stroke-linecap="butt" stroke-linejoin="round" stroke-dasharray="12.7 3.9 2.0 3.9"/>
<path d="M438.5,247.9L439.5,247.7L440.5,247.5L441.5,247.3L442.5,247.1L443.5,246.9L444.5,246.7L445.5,246.5L446.5,246.3L447.5,246.1L448.5,245.8L449.5,245.6L450.5,245.4L451.5,245.2L452.5,245.0L453.5,244.7L454.5,244.5L455.5,244.3L456.5,244.0L457.5,243.8L458.5,243.5L459.5,243.3L460.5,243.0L461.5,242.8L462.5,242.5L463.5,242.3L464.5,242.0L465.5,241.7L466.5,241.5L467.5,241.2L468.5,240.9L469.5,240.7L470.5,240.4L471.5,240.1L472.5,239.9L473.5,239.6L474.5,239.3L475.5,239.1L476.5,238.8L477.5,238.5L478.5,238.2L479.5,238.0L480.5,237.7L481.5,237.4L482.5,237.2L483.5,236.9L484.5,236.7L485.5,236.4L486.5,236.1L487.5,235.9L488.5,235.6L489.5,235.3L490.5,235.0L491.5,234.8L492.5,234.5L493.5,234.2L494.5,234.0L495.5,233.7L496.5,233.4L497.5,233.2L498.5,232.9L499.5,232.6L500.5,232.3L501.5,232.1L502.5,231.8L503.5,231.5L504.5,231.3L505.5,231.0L506.5,230.7L507.5,230.4L508.5,230.2L509.5,229.9L510.5,229.6L511.5,229.3L512.5,229.1L513.5,228.8L514.5,228.5L515.5,228.2L516.5,227.9L517.5,227.7L518.5,227.4L519.5,227.1L520.5,226.8L521.5,226.6L522.5,226.3L523.5,226.0L524.5,225.7L525.5,225.4L526.5,225.1L527.5,224.8L528.5,224.5L529.5,224.3L530.5,224.0L531.5,223.7L532.5,223.4L533.5,223.1L534.5,222.8L535.5,222.5L536.5,222.2L537.5,221.9L538.5,221.6L539.5,221.3L540.5,221.0L541.5,220.7L542.5,220.4L543.5,220.1L544.5,219.8L545.5,219.5L546.5,219.2L547.5,218.9L548.5,218.6L549.5,218.2L550.5,217.9L551.5,217.6L552.5,217.3L553.5,217.0L554.5,216.6L555.5,216.3L556.5,216.0L557.5,215.6L558.5,215.3L559.5,214.9L560.5,214.6L561.5,214.2L562.5,213.8L563.5,213.5L564.5,213.1L565.5,212.8L566.5,212.4L567.5,212.1L568.5,211.7L569.5,211.4L570.5,211.0L571.5,210.7L572.5,210.3L573.5,210.0L574.5,209.6L575.5,209.3L576.5,208.9L577.5,208.6L578.5,208.2L579.5,207.9L580.5,207.6L581.5,207.2L582.5,206.9L583.5,206.6L584.5,206.2L585.5,205.9L586.5,205.6L587.5,205.3L588.5,204.9L589.5,204.6L590.5,204.3L591.5,204.0L592.5,203.7L593.5,203.4L594.5,203.1L595.5,202.8L596.5,202.5L597.5,202.2L598.5,201.8L599.5,201.5L600.5,201.3L601.5,201.0L602.5,200.7L603.5,200.4L604.5,200.1L605.5,199.8L606.5,199.5L607.5,199.2L608.5,199.0L609.5,198.7L610.5,198.4L611.5,198.1L612.5,197.9L613.5,197.6L614.5,197.3L615.5,197.1L616.5,196.8L617.5,196.5L618.5,196.3L619.5,196.0L620.5,195.7L621.5,195.5L622.5,195.2L623.5,195.0L624.5,194.7L625.5,194.5L626.5,194.2L627.5,194.0L628.5,193.8L629.5,193.5L630.5,193.3L631.5,193.1L632.5,192.9L633.5,192.6L634.5,192.4L635.5,192.2L636.5,192.0L637.5,191.8L638.5,191.6L639.5,191.4L640.5,191.2L641.5,191.1L642.5,190.9L643.5,190.7L644.5,190.5L645.5,190.3L646.5,190.1L647.5,190.0L648.5,189.8L649.5,189.6L650.5,189.4L651.5,189.3L652.5,189.1L653.5,189.0L654.5,188.8L655.5,188.7L656.5,188.5L657.5,188.4L658.5,188.3L659.5,188.1L660.5,188.0L661.5,187.9L662.5,187.8L663.5,187.6L664.5,187.5L665.5,187.4L666.5,187.3L667.5,187.2L668.5,187.1L669.5,187.0L670.5,186.9L671.5,186.8L672.5,186.7L673.5,186.6L674.5,186.5L675.5,186.4L676.5,186.3L677.5,186.2L678.5,186.1L679.5,186.0L680.5,185.9L681.5,185.8L682.5,185.8L683.5,185.7L684.5,185.6L685.5,185.5L686.5,185.5L687.5,185.4L688.5,185.3L689.5,185.3L690.5,185.2L691.5,185.1L692.5,185.1L693.5,185.0L694.5,184.9L695.5,184.9L696.5,184.8L697.5,184.8L698.5,184.7L699.5,184.6L700.5,184.6L701.5,184.5L702.5,184.4L703.5,184.4L704.5,184.3L705.5,184.2L706.5,184.2L707.5,184.1L708.5,184.0L709.5,184.0L710.5,183.9L711.5,183.8L712.5,183.8L713.5,183.7L714.5,183.6L715.5,183.6L716.5,183.5L717.5,183.4L718.5,183.3L719.5,183.3L720.5,183.2L721.5,183.1L722.5,183.0L723.5,182.9L724.5,182.9L725.5,182.8L726.5,182.7L727.5,182.6L728.5,182.5L729.5,182.4L730.5,182.4L731.5,182.3L732.5,182.2L733.5,182.1L734.5,182.1L735.5,182.0L736.5,181.9L737.5,181.8L738.5,181.8L739.5,181.7L740.5,181.7L741.5,181.6L742.5,181.5L743.5,181.5L744.5,181.4L745.5,181.4L746.5,181.3L747.5,181.3L748.5,181.2L749.5,181.2L750.5,181.1L751.5,181.1L752.5,181.0L753.5,181.0L754.5,180.9L755.5,180.9L756.5,180.8L757.5,180.8L758.5,180.7L759.5,180.7L760.5,180.6L761.5,180.6L762.5,180.5L763.5,180.5L764.5,180.4L765.5,180.4L766.5,180.3L767.5,180.3L768.5,180.2L769.5,180.2L770.5,180.1L771.5,180.1L772.5,180.0L773.5,180.0L774.5,179.9L775.5,179.9L776.5,179.8L777.5,179.8L778.5,179.7L779.5,179.7L780.5,179.6L781.5,179.6L782.5,179.5L783.5,179.5L784.5,179.4L785.5,179.4L786.5,179.4L787.5,179.3L788.5,179.3L789.5,179.2L790.5,179.2L791.5,179.1L792.5,179.1L793.5,179.0L794.5,179.0L795.5,178.9L796.5,178.9L797.5,178.8L798.5,178.8L799.5,178.7L800.5,178.7L801.5,178.7L802.5,178.6L803.5,178.6L804.5,178.5L805.5,178.5L806.5,178.4L807.1,178.4" fill="none" stroke="#ff0000" stroke-width="1.75" stroke-linecap="butt" stroke-linejoin="round"/>
</g>
<path d="M24.90,148.30v-5.80M24.90,6.00v5.80M37.42,148.30v-2.90M37.42,6.00v2.90M49.94,148.30v-2.90M49.94,6.00v2.90M62.46,148.30v-2.90M62.46,6.00v2.90M74.98,148.30v-2.90M74.98,6.00v2.90M87.50,148.30v-5.80M87.50,6.00v5.80M100.02,148.30v-2.90M100.02,6.00v2.90M112.54,148.30v-2.90M112.54,6.00v2.90M125.06,148.30v-2.90M125.06,6.00v2.90M137.58,148.30v-2.90M137.58,6.00v2.90M150.10,148.30v-5.80M150.10,6.00v5.80M162.62,148.30v-2.90M162.62,6.00v2.90M175.14,148.30v-2.90M175.14,6.00v2.90M187.66,148.30v-2.90M187.66,6.00v2.90M200.18,148.30v-2.90M200.18,6.00v2.90M212.70,148.30v-5.80M212.70,6.00v5.80M225.22,148.30v-2.90M225.22,6.00v2.90M237.74,148.30v-2.90M237.74,6.00v2.90M250.26,148.30v-2.90M250.26,6.00v2.90M262.78,148.30v-2.90M262.78,6.00v2.90M275.30,148.30v-5.80M275.30,6.00v5.80M287.82,148.30v-2.90M287.82,6.00v2.90M300.34,148.30v-2.90M300.34,6.00v2.90M312.86,148.30v-2.90M312.86,6.00v2.90M325.38,148.30v-2.90M325.38,6.00v2.90M337.90,148.30v-5.80M337.90,6.00v5.80M350.42,148.30v-2.90M350.42,6.00v2.90M362.94,148.30v-2.90M362.94,6.00v2.90M375.46,148.30v-2.90M375.46,6.00v2.90M387.98,148.30v-2.90M387.98,6.00v2.90M23.90,142.90h5.80M400.50,142.90h-5.80M23.90,115.14h5.80M400.50,115.14h-5.80M23.90,87.38h5.80M400.50,87.38h-5.80M23.90,59.61h5.80M400.50,59.61h-5.80M23.90,31.85h5.80M400.50,31.85h-5.80M23.90,137.35h2.90M400.50,137.35h-2.90M23.90,131.80h2.90M400.50,131.80h-2.90M23.90,126.24h2.90M400.50,126.24h-2.90M23.90,120.69h2.90M400.50,120.69h-2.90M23.90,109.59h2.90M400.50,109.59h-2.90M23.90,104.03h2.90M400.50,104.03h-2.90M23.90,98.48h2.90M400.50,98.48h-2.90M23.90,92.93h2.90M400.50,92.93h-2.90M23.90,81.82h2.90M400.50,81.82h-2.90M23.90,76.27h2.90M400.50,76.27h-2.90M23.90,70.72h2.90M400.50,70.72h-2.90M23.90,65.17h2.90M400.50,65.17h-2.90M23.90,54.06h2.90M400.50,54.06h-2.90M23.90,48.51h2.90M400.50,48.51h-2.90M23.90,42.95h2.90M400.50,42.95h-2.90M23.90,37.40h2.90M400.50,37.40h-2.90M23.90,26.30h2.90M400.50,26.30h-2.90M23.90,20.75h2.90M400.50,20.75h-2.90M23.90,15.19h2.90M400.50,15.19h-2.90M23.90,9.64h2.90M400.50,9.64h-2.90" stroke="#111111" stroke-width="1.0" fill="none"/>
<rect x="23.90" y="6.00" width="376.60" height="142.30" fill="none" stroke="#111111" stroke-width="1.15"/>
<text class="tk" x="23.15" y="148.80" text-anchor="end">0</text>
<text class="tk" x="23.15" y="121.04" text-anchor="end">5</text>
<text class="tk" x="23.15" y="93.28" text-anchor="end">10</text>
<text class="tk" x="23.15" y="65.51" text-anchor="end">15</text>
<text class="tk" x="23.15" y="37.75" text-anchor="end">20</text>
<path d="M438.90,148.30v-5.80M438.90,6.00v5.80M451.42,148.30v-2.90M451.42,6.00v2.90M463.94,148.30v-2.90M463.94,6.00v2.90M476.46,148.30v-2.90M476.46,6.00v2.90M488.98,148.30v-2.90M488.98,6.00v2.90M501.50,148.30v-5.80M501.50,6.00v5.80M514.02,148.30v-2.90M514.02,6.00v2.90M526.54,148.30v-2.90M526.54,6.00v2.90M539.06,148.30v-2.90M539.06,6.00v2.90M551.58,148.30v-2.90M551.58,6.00v2.90M564.10,148.30v-5.80M564.10,6.00v5.80M576.62,148.30v-2.90M576.62,6.00v2.90M589.14,148.30v-2.90M589.14,6.00v2.90M601.66,148.30v-2.90M601.66,6.00v2.90M614.18,148.30v-2.90M614.18,6.00v2.90M626.70,148.30v-5.80M626.70,6.00v5.80M639.22,148.30v-2.90M639.22,6.00v2.90M651.74,148.30v-2.90M651.74,6.00v2.90M664.26,148.30v-2.90M664.26,6.00v2.90M676.78,148.30v-2.90M676.78,6.00v2.90M689.30,148.30v-5.80M689.30,6.00v5.80M701.82,148.30v-2.90M701.82,6.00v2.90M714.34,148.30v-2.90M714.34,6.00v2.90M726.86,148.30v-2.90M726.86,6.00v2.90M739.38,148.30v-2.90M739.38,6.00v2.90M751.90,148.30v-5.80M751.90,6.00v5.80M764.42,148.30v-2.90M764.42,6.00v2.90M776.94,148.30v-2.90M776.94,6.00v2.90M789.46,148.30v-2.90M789.46,6.00v2.90M801.98,148.30v-2.90M801.98,6.00v2.90M437.90,138.25h5.80M814.50,138.25h-5.80M437.90,102.40h5.80M814.50,102.40h-5.80M437.90,66.55h5.80M814.50,66.55h-5.80M437.90,30.70h5.80M814.50,30.70h-5.80M437.90,145.42h2.90M814.50,145.42h-2.90M437.90,131.08h2.90M814.50,131.08h-2.90M437.90,123.91h2.90M814.50,123.91h-2.90M437.90,116.74h2.90M814.50,116.74h-2.90M437.90,109.57h2.90M814.50,109.57h-2.90M437.90,95.23h2.90M814.50,95.23h-2.90M437.90,88.06h2.90M814.50,88.06h-2.90M437.90,80.89h2.90M814.50,80.89h-2.90M437.90,73.72h2.90M814.50,73.72h-2.90M437.90,59.38h2.90M814.50,59.38h-2.90M437.90,52.21h2.90M814.50,52.21h-2.90M437.90,45.04h2.90M814.50,45.04h-2.90M437.90,37.87h2.90M814.50,37.87h-2.90M437.90,23.53h2.90M814.50,23.53h-2.90M437.90,16.36h2.90M814.50,16.36h-2.90M437.90,9.19h2.90M814.50,9.19h-2.90" stroke="#111111" stroke-width="1.0" fill="none"/>
<rect x="437.90" y="6.00" width="376.60" height="142.30" fill="none" stroke="#111111" stroke-width="1.15"/>
<text class="tk" x="437.15" y="143.45" text-anchor="end"><tspan dy="1.6">−</tspan><tspan dy="-1.6">10</tspan></text>
<text class="tk" x="437.15" y="107.60" text-anchor="end">0</text>
<text class="tk" x="437.15" y="71.75" text-anchor="end">10</text>
<text class="tk" x="437.15" y="35.90" text-anchor="end">20</text>
<path d="M24.90,299.50v-5.80M24.90,157.80v5.80M37.42,299.50v-2.90M37.42,157.80v2.90M49.94,299.50v-2.90M49.94,157.80v2.90M62.46,299.50v-2.90M62.46,157.80v2.90M74.98,299.50v-2.90M74.98,157.80v2.90M87.50,299.50v-5.80M87.50,157.80v5.80M100.02,299.50v-2.90M100.02,157.80v2.90M112.54,299.50v-2.90M112.54,157.80v2.90M125.06,299.50v-2.90M125.06,157.80v2.90M137.58,299.50v-2.90M137.58,157.80v2.90M150.10,299.50v-5.80M150.10,157.80v5.80M162.62,299.50v-2.90M162.62,157.80v2.90M175.14,299.50v-2.90M175.14,157.80v2.90M187.66,299.50v-2.90M187.66,157.80v2.90M200.18,299.50v-2.90M200.18,157.80v2.90M212.70,299.50v-5.80M212.70,157.80v5.80M225.22,299.50v-2.90M225.22,157.80v2.90M237.74,299.50v-2.90M237.74,157.80v2.90M250.26,299.50v-2.90M250.26,157.80v2.90M262.78,299.50v-2.90M262.78,157.80v2.90M275.30,299.50v-5.80M275.30,157.80v5.80M287.82,299.50v-2.90M287.82,157.80v2.90M300.34,299.50v-2.90M300.34,157.80v2.90M312.86,299.50v-2.90M312.86,157.80v2.90M325.38,299.50v-2.90M325.38,157.80v2.90M337.90,299.50v-5.80M337.90,157.80v5.80M350.42,299.50v-2.90M350.42,157.80v2.90M362.94,299.50v-2.90M362.94,157.80v2.90M375.46,299.50v-2.90M375.46,157.80v2.90M387.98,299.50v-2.90M387.98,157.80v2.90M23.90,279.10h5.80M400.50,279.10h-5.80M23.90,258.46h5.80M400.50,258.46h-5.80M23.90,237.82h5.80M400.50,237.82h-5.80M23.90,217.18h5.80M400.50,217.18h-5.80M23.90,196.54h5.80M400.50,196.54h-5.80M23.90,175.90h5.80M400.50,175.90h-5.80M23.90,295.61h2.90M400.50,295.61h-2.90M23.90,291.48h2.90M400.50,291.48h-2.90M23.90,287.36h2.90M400.50,287.36h-2.90M23.90,283.23h2.90M400.50,283.23h-2.90M23.90,274.97h2.90M400.50,274.97h-2.90M23.90,270.84h2.90M400.50,270.84h-2.90M23.90,266.72h2.90M400.50,266.72h-2.90M23.90,262.59h2.90M400.50,262.59h-2.90M23.90,254.33h2.90M400.50,254.33h-2.90M23.90,250.20h2.90M400.50,250.20h-2.90M23.90,246.08h2.90M400.50,246.08h-2.90M23.90,241.95h2.90M400.50,241.95h-2.90M23.90,233.69h2.90M400.50,233.69h-2.90M23.90,229.56h2.90M400.50,229.56h-2.90M23.90,225.44h2.90M400.50,225.44h-2.90M23.90,221.31h2.90M400.50,221.31h-2.90M23.90,213.05h2.90M400.50,213.05h-2.90M23.90,208.92h2.90M400.50,208.92h-2.90M23.90,204.80h2.90M400.50,204.80h-2.90M23.90,200.67h2.90M400.50,200.67h-2.90M23.90,192.41h2.90M400.50,192.41h-2.90M23.90,188.28h2.90M400.50,188.28h-2.90M23.90,184.16h2.90M400.50,184.16h-2.90M23.90,180.03h2.90M400.50,180.03h-2.90M23.90,171.77h2.90M400.50,171.77h-2.90M23.90,167.64h2.90M400.50,167.64h-2.90M23.90,163.52h2.90M400.50,163.52h-2.90M23.90,159.39h2.90M400.50,159.39h-2.90" stroke="#111111" stroke-width="1.0" fill="none"/>
<rect x="23.90" y="157.80" width="376.60" height="141.70" fill="none" stroke="#111111" stroke-width="1.15"/>
<text class="tk" x="23.15" y="304.94" text-anchor="end"><tspan dy="1.6">−</tspan><tspan dy="-1.6">5</tspan></text>
<text class="tk" x="23.15" y="284.30" text-anchor="end">0</text>
<text class="tk" x="23.15" y="263.66" text-anchor="end">5</text>
<text class="tk" x="23.15" y="243.02" text-anchor="end">10</text>
<text class="tk" x="23.15" y="222.38" text-anchor="end">15</text>
<text class="tk" x="23.15" y="201.74" text-anchor="end">20</text>
<text class="tk" x="23.15" y="181.10" text-anchor="end">25</text>
<text class="tk" x="27.55" y="314.10" text-anchor="middle">0</text>
<text class="tk" x="88.55" y="314.10" text-anchor="middle">50</text>
<text class="tk" x="150.10" y="314.10" text-anchor="middle">100</text>
<text class="tk" x="212.70" y="314.10" text-anchor="middle">150</text>
<text class="tk" x="275.30" y="314.10" text-anchor="middle">200</text>
<text class="tk" x="337.90" y="314.10" text-anchor="middle">250</text>
<text class="tk" x="400.50" y="314.10" text-anchor="middle">300</text>
<path d="M438.90,299.50v-5.80M438.90,157.80v5.80M451.42,299.50v-2.90M451.42,157.80v2.90M463.94,299.50v-2.90M463.94,157.80v2.90M476.46,299.50v-2.90M476.46,157.80v2.90M488.98,299.50v-2.90M488.98,157.80v2.90M501.50,299.50v-5.80M501.50,157.80v5.80M514.02,299.50v-2.90M514.02,157.80v2.90M526.54,299.50v-2.90M526.54,157.80v2.90M539.06,299.50v-2.90M539.06,157.80v2.90M551.58,299.50v-2.90M551.58,157.80v2.90M564.10,299.50v-5.80M564.10,157.80v5.80M576.62,299.50v-2.90M576.62,157.80v2.90M589.14,299.50v-2.90M589.14,157.80v2.90M601.66,299.50v-2.90M601.66,157.80v2.90M614.18,299.50v-2.90M614.18,157.80v2.90M626.70,299.50v-5.80M626.70,157.80v5.80M639.22,299.50v-2.90M639.22,157.80v2.90M651.74,299.50v-2.90M651.74,157.80v2.90M664.26,299.50v-2.90M664.26,157.80v2.90M676.78,299.50v-2.90M676.78,157.80v2.90M689.30,299.50v-5.80M689.30,157.80v5.80M701.82,299.50v-2.90M701.82,157.80v2.90M714.34,299.50v-2.90M714.34,157.80v2.90M726.86,299.50v-2.90M726.86,157.80v2.90M739.38,299.50v-2.90M739.38,157.80v2.90M751.90,299.50v-5.80M751.90,157.80v5.80M764.42,299.50v-2.90M764.42,157.80v2.90M776.94,299.50v-2.90M776.94,157.80v2.90M789.46,299.50v-2.90M789.46,157.80v2.90M801.98,299.50v-2.90M801.98,157.80v2.90M437.90,275.60h5.80M814.50,275.60h-5.80M437.90,248.70h5.80M814.50,248.70h-5.80M437.90,221.80h5.80M814.50,221.80h-5.80M437.90,194.90h5.80M814.50,194.90h-5.80M437.90,168.00h5.80M814.50,168.00h-5.80M437.90,297.12h2.90M814.50,297.12h-2.90M437.90,291.74h2.90M814.50,291.74h-2.90M437.90,286.36h2.90M814.50,286.36h-2.90M437.90,280.98h2.90M814.50,280.98h-2.90M437.90,270.22h2.90M814.50,270.22h-2.90M437.90,264.84h2.90M814.50,264.84h-2.90M437.90,259.46h2.90M814.50,259.46h-2.90M437.90,254.08h2.90M814.50,254.08h-2.90M437.90,243.32h2.90M814.50,243.32h-2.90M437.90,237.94h2.90M814.50,237.94h-2.90M437.90,232.56h2.90M814.50,232.56h-2.90M437.90,227.18h2.90M814.50,227.18h-2.90M437.90,216.42h2.90M814.50,216.42h-2.90M437.90,211.04h2.90M814.50,211.04h-2.90M437.90,205.66h2.90M814.50,205.66h-2.90M437.90,200.28h2.90M814.50,200.28h-2.90M437.90,189.52h2.90M814.50,189.52h-2.90M437.90,184.14h2.90M814.50,184.14h-2.90M437.90,178.76h2.90M814.50,178.76h-2.90M437.90,173.38h2.90M814.50,173.38h-2.90M437.90,162.62h2.90M814.50,162.62h-2.90" stroke="#111111" stroke-width="1.0" fill="none"/>
<rect x="437.90" y="157.80" width="376.60" height="141.70" fill="none" stroke="#111111" stroke-width="1.15"/>
<text class="tk" x="437.15" y="281.50" text-anchor="end"><tspan dy="1.6">−</tspan><tspan dy="-1.6">20</tspan></text>
<text class="tk" x="437.15" y="254.60" text-anchor="end"><tspan dy="1.6">−</tspan><tspan dy="-1.6">15</tspan></text>
<text class="tk" x="437.15" y="227.70" text-anchor="end"><tspan dy="1.6">−</tspan><tspan dy="-1.6">10</tspan></text>
<text class="tk" x="437.15" y="200.80" text-anchor="end"><tspan dy="1.6">−</tspan><tspan dy="-1.6">5</tspan></text>
<text class="tk" x="437.15" y="173.90" text-anchor="end">0</text>
<text class="tk" x="441.55" y="314.10" text-anchor="middle">0</text>
<text class="tk" x="502.55" y="314.10" text-anchor="middle">50</text>
<text class="tk" x="564.10" y="314.10" text-anchor="middle">100</text>
<text class="tk" x="626.70" y="314.10" text-anchor="middle">150</text>
<text class="tk" x="689.30" y="314.10" text-anchor="middle">200</text>
<text class="tk" x="751.90" y="314.10" text-anchor="middle">250</text>
<text class="tk" x="814.50" y="314.10" text-anchor="middle">300</text>

<text class="gk" x="80.3" y="134.8">α</text><text class="sb" x="91.5" y="138.7">E1</text>
<text class="gk" x="80.3" y="285.9">α</text><text class="sb" x="91.5" y="289.5">E2</text>
<text class="gk bt" x="688.0" y="134.4">β</text><text class="sb" x="698.9" y="138.2">M1</text>
<text class="gk bt" x="688.0" y="285.5">β</text><text class="sb" x="698.9" y="289.0">M2</text>
<text class="ax" x="391.5" y="337.8" font-style="italic">ω</text><text class="ax" x="405.3" y="337.8">[MeV]</text>

</svg>
</body></html>
